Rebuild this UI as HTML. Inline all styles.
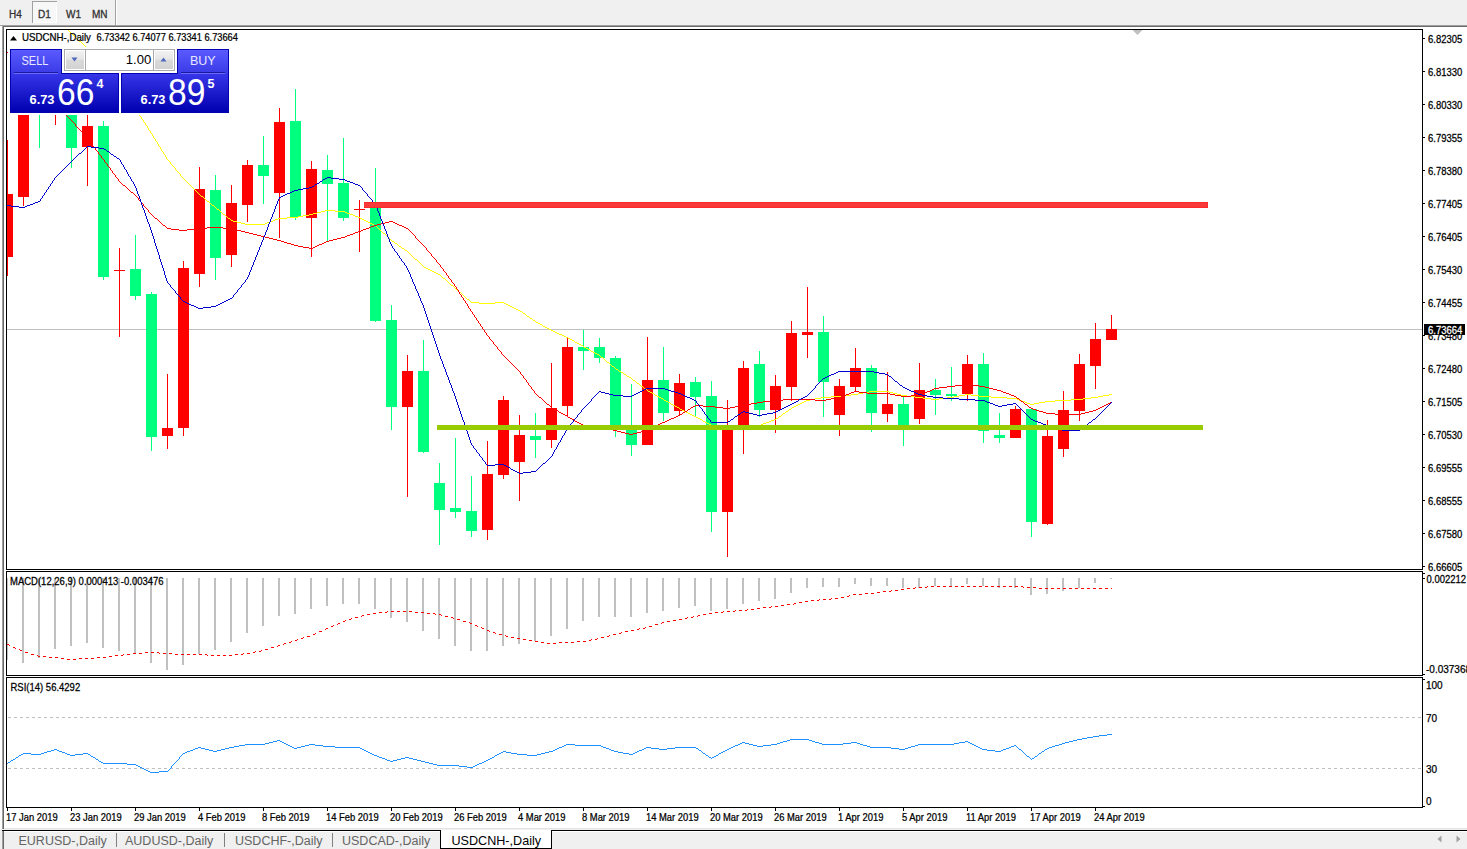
<!DOCTYPE html>
<html><head><meta charset="utf-8"><title>MT4 USDCNH Daily</title><style>
html,body{margin:0;padding:0;width:1467px;height:849px;overflow:hidden;background:#f0f0f0}
svg{position:absolute;left:0;top:0}
text{font-family:"Liberation Sans",sans-serif;white-space:pre}
</style></head><body>
<svg width="1467" height="849" viewBox="0 0 1467 849" shape-rendering="crispEdges">
<rect x="0" y="0" width="1467" height="849" fill="#f0f0f0"/>
<rect x="32" y="1" width="25" height="22" fill="#f7f7f7"/>
<rect x="32" y="1" width="25" height="1" fill="#a0a0a0"/>
<rect x="32" y="1" width="1" height="22" fill="#a0a0a0"/>
<rect x="33" y="22" width="24" height="1" fill="#ffffff"/>
<rect x="56" y="2" width="1" height="21" fill="#ffffff"/>
<rect x="115" y="0" width="1" height="25" fill="#a0a0a0"/>
<rect x="116" y="0" width="1" height="25" fill="#ffffff"/>
<text x="9" y="17.5" font-size="10" fill="#333" stroke="#333" stroke-width="0.3">H4</text>
<text x="38" y="17.5" font-size="10" fill="#333" stroke="#333" stroke-width="0.3">D1</text>
<text x="66" y="17.5" font-size="10" fill="#333" stroke="#333" stroke-width="0.3">W1</text>
<text x="92" y="17.5" font-size="10" fill="#333" stroke="#333" stroke-width="0.3">MN</text>
<rect x="0" y="25" width="1467" height="1" fill="#a0a0a0"/>
<rect x="2" y="26" width="1465" height="1" fill="#696969"/>
<rect x="2" y="25" width="1" height="804" fill="#a0a0a0"/>
<rect x="3" y="26" width="1" height="803" fill="#696969"/>
<rect x="4" y="27" width="1463" height="801" fill="#ffffff"/>
<rect x="0" y="26" width="2" height="803" fill="#ffffff"/>
<rect x="4" y="828" width="1463" height="1" fill="#e3e3e3"/>
<rect x="2" y="830" width="1465" height="1" fill="#000000"/>
<rect x="2" y="831" width="1" height="18" fill="#a0a0a0"/>
<rect x="3" y="831" width="1" height="18" fill="#696969"/>
<rect x="4" y="831" width="1463" height="1" fill="#ffffff"/>
<rect x="6" y="29" width="1417" height="1" fill="#000"/>
<rect x="6" y="569" width="1417" height="1" fill="#000"/>
<rect x="6" y="29" width="1" height="541" fill="#000"/>
<rect x="1422" y="29" width="1" height="541" fill="#000"/>
<rect x="6" y="571" width="1417" height="1" fill="#000"/>
<rect x="6" y="675" width="1417" height="1" fill="#000"/>
<rect x="6" y="571" width="1" height="105" fill="#000"/>
<rect x="1422" y="571" width="1" height="105" fill="#000"/>
<rect x="6" y="677" width="1417" height="1" fill="#000"/>
<rect x="6" y="807" width="1417" height="1" fill="#000"/>
<rect x="6" y="677" width="1" height="131" fill="#000"/>
<rect x="1422" y="677" width="1" height="131" fill="#000"/>
<defs><clipPath id="cm"><rect x="7" y="30" width="1415" height="539"/></clipPath><clipPath id="cd"><rect x="7" y="572" width="1415" height="103"/></clipPath><clipPath id="cr"><rect x="7" y="678" width="1415" height="129"/></clipPath><linearGradient id="gtab" x1="0" y1="0" x2="0" y2="1"><stop offset="0" stop-color="#5a5aff"/><stop offset="1" stop-color="#3a3ae6"/></linearGradient><linearGradient id="gbody" x1="0" y1="0" x2="0" y2="1"><stop offset="0" stop-color="#3636e8"/><stop offset="1" stop-color="#0000b0"/></linearGradient><linearGradient id="gbtn" x1="0" y1="0" x2="0" y2="1"><stop offset="0" stop-color="#f2f2f2"/><stop offset="0.45" stop-color="#e6e6e6"/><stop offset="0.5" stop-color="#dadada"/><stop offset="1" stop-color="#d2d2d2"/></linearGradient></defs>
<g clip-path="url(#cm)">
<rect x="7" y="329" width="1415" height="1" fill="#c0c0c0"/>
<rect x="7" y="140" width="1" height="136" fill="#ff0000"/>
<rect x="2" y="194" width="11" height="63" fill="#ff0000"/>
<rect x="23" y="90" width="1" height="116" fill="#ff0000"/>
<rect x="18" y="100" width="11" height="97" fill="#ff0000"/>
<rect x="39" y="50" width="1" height="98" fill="#00ff7f"/>
<rect x="34" y="60" width="11" height="40" fill="#00ff7f"/>
<rect x="55" y="80" width="1" height="45" fill="#ff0000"/>
<rect x="50" y="90" width="11" height="20" fill="#ff0000"/>
<rect x="71" y="70" width="1" height="98" fill="#00ff7f"/>
<rect x="66" y="80" width="11" height="68" fill="#00ff7f"/>
<rect x="87" y="100" width="1" height="86" fill="#ff0000"/>
<rect x="82" y="126" width="11" height="21" fill="#ff0000"/>
<rect x="103" y="121" width="1" height="159" fill="#00ff7f"/>
<rect x="98" y="126" width="11" height="151" fill="#00ff7f"/>
<rect x="119" y="248" width="1" height="89" fill="#ff0000"/>
<rect x="114" y="270" width="11" height="1" fill="#ff0000"/>
<rect x="135" y="235" width="1" height="65" fill="#00ff7f"/>
<rect x="130" y="269" width="11" height="27" fill="#00ff7f"/>
<rect x="151" y="292" width="1" height="159" fill="#00ff7f"/>
<rect x="146" y="294" width="11" height="143" fill="#00ff7f"/>
<rect x="167" y="374" width="1" height="75" fill="#ff0000"/>
<rect x="162" y="428" width="11" height="8" fill="#ff0000"/>
<rect x="183" y="261" width="1" height="175" fill="#ff0000"/>
<rect x="178" y="268" width="11" height="160" fill="#ff0000"/>
<rect x="199" y="167" width="1" height="120" fill="#ff0000"/>
<rect x="194" y="189" width="11" height="85" fill="#ff0000"/>
<rect x="215" y="175" width="1" height="105" fill="#00ff7f"/>
<rect x="210" y="190" width="11" height="68" fill="#00ff7f"/>
<rect x="231" y="185" width="1" height="82" fill="#ff0000"/>
<rect x="226" y="203" width="11" height="52" fill="#ff0000"/>
<rect x="247" y="160" width="1" height="62" fill="#ff0000"/>
<rect x="242" y="165" width="11" height="40" fill="#ff0000"/>
<rect x="263" y="136" width="1" height="68" fill="#00ff7f"/>
<rect x="258" y="165" width="11" height="11" fill="#00ff7f"/>
<rect x="279" y="108" width="1" height="130" fill="#ff0000"/>
<rect x="274" y="122" width="11" height="71" fill="#ff0000"/>
<rect x="295" y="89" width="1" height="131" fill="#00ff7f"/>
<rect x="290" y="121" width="11" height="96" fill="#00ff7f"/>
<rect x="311" y="161" width="1" height="96" fill="#ff0000"/>
<rect x="306" y="169" width="11" height="49" fill="#ff0000"/>
<rect x="327" y="155" width="1" height="87" fill="#00ff7f"/>
<rect x="322" y="170" width="11" height="14" fill="#00ff7f"/>
<rect x="343" y="138" width="1" height="83" fill="#00ff7f"/>
<rect x="338" y="183" width="11" height="35" fill="#00ff7f"/>
<rect x="359" y="200" width="1" height="52" fill="#ff0000"/>
<rect x="354" y="209" width="11" height="1" fill="#ff0000"/>
<rect x="375" y="168" width="1" height="154" fill="#00ff7f"/>
<rect x="370" y="207" width="11" height="114" fill="#00ff7f"/>
<rect x="391" y="305" width="1" height="125" fill="#00ff7f"/>
<rect x="386" y="320" width="11" height="87" fill="#00ff7f"/>
<rect x="407" y="355" width="1" height="142" fill="#ff0000"/>
<rect x="402" y="371" width="11" height="36" fill="#ff0000"/>
<rect x="423" y="340" width="1" height="113" fill="#00ff7f"/>
<rect x="418" y="371" width="11" height="81" fill="#00ff7f"/>
<rect x="439" y="463" width="1" height="82" fill="#00ff7f"/>
<rect x="434" y="483" width="11" height="27" fill="#00ff7f"/>
<rect x="455" y="438" width="1" height="80" fill="#00ff7f"/>
<rect x="450" y="508" width="11" height="4" fill="#00ff7f"/>
<rect x="471" y="476" width="1" height="61" fill="#00ff7f"/>
<rect x="466" y="511" width="11" height="20" fill="#00ff7f"/>
<rect x="487" y="441" width="1" height="99" fill="#ff0000"/>
<rect x="482" y="474" width="11" height="56" fill="#ff0000"/>
<rect x="503" y="396" width="1" height="83" fill="#ff0000"/>
<rect x="498" y="400" width="11" height="75" fill="#ff0000"/>
<rect x="519" y="415" width="1" height="86" fill="#ff0000"/>
<rect x="514" y="435" width="11" height="27" fill="#ff0000"/>
<rect x="535" y="413" width="1" height="45" fill="#00ff7f"/>
<rect x="530" y="436" width="11" height="4" fill="#00ff7f"/>
<rect x="551" y="363" width="1" height="85" fill="#ff0000"/>
<rect x="546" y="408" width="11" height="32" fill="#ff0000"/>
<rect x="567" y="337" width="1" height="80" fill="#ff0000"/>
<rect x="562" y="347" width="11" height="59" fill="#ff0000"/>
<rect x="583" y="330" width="1" height="40" fill="#00ff7f"/>
<rect x="578" y="347" width="11" height="4" fill="#00ff7f"/>
<rect x="599" y="338" width="1" height="25" fill="#00ff7f"/>
<rect x="594" y="347" width="11" height="11" fill="#00ff7f"/>
<rect x="615" y="356" width="1" height="81" fill="#00ff7f"/>
<rect x="610" y="358" width="11" height="70" fill="#00ff7f"/>
<rect x="631" y="384" width="1" height="72" fill="#00ff7f"/>
<rect x="626" y="427" width="11" height="18" fill="#00ff7f"/>
<rect x="647" y="337" width="1" height="108" fill="#ff0000"/>
<rect x="642" y="380" width="11" height="65" fill="#ff0000"/>
<rect x="663" y="347" width="1" height="74" fill="#00ff7f"/>
<rect x="658" y="380" width="11" height="33" fill="#00ff7f"/>
<rect x="679" y="374" width="1" height="42" fill="#ff0000"/>
<rect x="674" y="383" width="11" height="28" fill="#ff0000"/>
<rect x="695" y="377" width="1" height="39" fill="#00ff7f"/>
<rect x="690" y="382" width="11" height="15" fill="#00ff7f"/>
<rect x="711" y="381" width="1" height="151" fill="#00ff7f"/>
<rect x="706" y="396" width="11" height="116" fill="#00ff7f"/>
<rect x="727" y="400" width="1" height="157" fill="#ff0000"/>
<rect x="722" y="429" width="11" height="83" fill="#ff0000"/>
<rect x="743" y="361" width="1" height="93" fill="#ff0000"/>
<rect x="738" y="368" width="11" height="58" fill="#ff0000"/>
<rect x="759" y="351" width="1" height="66" fill="#00ff7f"/>
<rect x="754" y="364" width="11" height="46" fill="#00ff7f"/>
<rect x="775" y="375" width="1" height="58" fill="#ff0000"/>
<rect x="770" y="386" width="11" height="24" fill="#ff0000"/>
<rect x="791" y="321" width="1" height="80" fill="#ff0000"/>
<rect x="786" y="333" width="11" height="54" fill="#ff0000"/>
<rect x="807" y="287" width="1" height="71" fill="#ff0000"/>
<rect x="802" y="332" width="11" height="3" fill="#ff0000"/>
<rect x="823" y="316" width="1" height="101" fill="#00ff7f"/>
<rect x="818" y="332" width="11" height="50" fill="#00ff7f"/>
<rect x="839" y="379" width="1" height="57" fill="#ff0000"/>
<rect x="834" y="386" width="11" height="29" fill="#ff0000"/>
<rect x="855" y="348" width="1" height="43" fill="#ff0000"/>
<rect x="850" y="368" width="11" height="19" fill="#ff0000"/>
<rect x="871" y="365" width="1" height="67" fill="#00ff7f"/>
<rect x="866" y="368" width="11" height="45" fill="#00ff7f"/>
<rect x="887" y="372" width="1" height="50" fill="#ff0000"/>
<rect x="882" y="404" width="11" height="10" fill="#ff0000"/>
<rect x="903" y="397" width="1" height="49" fill="#00ff7f"/>
<rect x="898" y="404" width="11" height="23" fill="#00ff7f"/>
<rect x="919" y="363" width="1" height="61" fill="#ff0000"/>
<rect x="914" y="390" width="11" height="29" fill="#ff0000"/>
<rect x="935" y="379" width="1" height="36" fill="#00ff7f"/>
<rect x="930" y="390" width="11" height="5" fill="#00ff7f"/>
<rect x="951" y="367" width="1" height="34" fill="#00ff7f"/>
<rect x="946" y="394" width="11" height="2" fill="#00ff7f"/>
<rect x="967" y="355" width="1" height="46" fill="#ff0000"/>
<rect x="962" y="364" width="11" height="30" fill="#ff0000"/>
<rect x="983" y="353" width="1" height="90" fill="#00ff7f"/>
<rect x="978" y="364" width="11" height="67" fill="#00ff7f"/>
<rect x="999" y="413" width="1" height="30" fill="#00ff7f"/>
<rect x="994" y="435" width="11" height="3" fill="#00ff7f"/>
<rect x="1015" y="406" width="1" height="32" fill="#ff0000"/>
<rect x="1010" y="409" width="11" height="29" fill="#ff0000"/>
<rect x="1031" y="408" width="1" height="129" fill="#00ff7f"/>
<rect x="1026" y="409" width="11" height="113" fill="#00ff7f"/>
<rect x="1047" y="420" width="1" height="105" fill="#ff0000"/>
<rect x="1042" y="436" width="11" height="88" fill="#ff0000"/>
<rect x="1063" y="391" width="1" height="66" fill="#ff0000"/>
<rect x="1058" y="410" width="11" height="39" fill="#ff0000"/>
<rect x="1079" y="354" width="1" height="67" fill="#ff0000"/>
<rect x="1074" y="364" width="11" height="47" fill="#ff0000"/>
<rect x="1095" y="323" width="1" height="66" fill="#ff0000"/>
<rect x="1090" y="339" width="11" height="27" fill="#ff0000"/>
<rect x="1111" y="315" width="1" height="25" fill="#ff0000"/>
<rect x="1106" y="329" width="11" height="11" fill="#ff0000"/>
<g shape-rendering="crispEdges">
<path d="M55 18h1v1h-1zM56 19h1v1h-1zM57 20h1v1h-1zM58 21h1v1h-1zM59 22h1v1h-1zM60 23h1v1h-1zM61 24h1v1h-1zM62 25h1v1h-1zM63 26h2v1h-2zM65 27h1v1h-1zM66 28h1v1h-1zM67 29h1v1h-1zM68 30h1v1h-1zM69 31h1v1h-1zM70 32h1v1h-1zM71 33h1v1h-1zM72 34h1v1h-1zM73 35h1v1h-1zM74 36h1v1h-1zM75 37h1v1h-1zM76 38h1v1h-1zM77 39h1v1h-1zM78 40h1v1h-1zM79 41h2v1h-2zM81 42h1v1h-1zM82 43h1v1h-1zM83 44h1v1h-1zM84 45h1v1h-1zM85 46h1v1h-1zM86 47h1v1h-1zM87 48h1v1h-1zM88 49h1v1h-1zM89 50h1v1h-1zM90 51h1v1h-1zM91 52h1v1h-1zM91 53h1v1h-1zM92 54h1v1h-1zM93 55h1v1h-1zM94 56h1v1h-1zM95 57h1v1h-1zM96 58h1v1h-1zM97 59h1v1h-1zM98 60h1v1h-1zM99 61h1v1h-1zM99 62h1v1h-1zM100 63h1v1h-1zM101 64h1v1h-1zM102 65h1v1h-1zM103 66h1v1h-1zM104 67h1v1h-1zM105 68h1v1h-1zM105 69h1v1h-1zM106 70h1v1h-1zM107 71h1v1h-1zM108 72h1v1h-1zM109 73h1v1h-1zM109 74h1v1h-1zM110 75h1v1h-1zM111 76h1v1h-1zM112 77h1v1h-1zM113 78h1v1h-1zM113 79h1v1h-1zM114 80h1v1h-1zM115 81h1v1h-1zM116 82h1v1h-1zM117 83h1v1h-1zM117 84h1v1h-1zM118 85h1v1h-1zM119 86h1v1h-1zM120 87h1v1h-1zM120 88h1v1h-1zM121 89h1v1h-1zM122 90h1v1h-1zM123 91h1v1h-1zM123 92h1v1h-1zM124 93h1v1h-1zM125 94h1v1h-1zM126 95h1v1h-1zM126 96h1v1h-1zM127 97h1v1h-1zM128 98h1v1h-1zM128 99h1v1h-1zM129 100h1v1h-1zM130 101h1v1h-1zM131 102h1v1h-1zM131 103h1v1h-1zM132 104h1v1h-1zM133 105h1v1h-1zM134 106h1v1h-1zM134 107h1v1h-1zM135 108h1v1h-1zM136 109h1v1h-1zM136 110h1v1h-1zM137 111h1v1h-1zM138 112h1v1h-1zM138 113h1v1h-1zM139 114h1v1h-1zM139 115h1v1h-1zM140 116h1v1h-1zM141 117h1v1h-1zM141 118h1v1h-1zM142 119h1v1h-1zM143 120h1v1h-1zM143 121h1v1h-1zM144 122h1v1h-1zM145 123h1v1h-1zM145 124h1v1h-1zM146 125h1v1h-1zM147 126h1v1h-1zM147 127h1v1h-1zM148 128h1v1h-1zM148 129h1v1h-1zM149 130h1v1h-1zM150 131h1v1h-1zM150 132h1v1h-1zM151 133h1v1h-1zM152 134h1v1h-1zM152 135h1v1h-1zM153 136h1v1h-1zM153 137h1v1h-1zM154 138h1v1h-1zM155 139h1v1h-1zM155 140h1v1h-1zM156 141h1v1h-1zM157 142h1v1h-1zM157 143h1v1h-1zM158 144h1v1h-1zM158 145h1v1h-1zM159 146h1v1h-1zM160 147h1v1h-1zM160 148h1v1h-1zM161 149h1v1h-1zM161 150h1v1h-1zM162 151h1v1h-1zM163 152h1v1h-1zM163 153h1v1h-1zM164 154h1v1h-1zM165 155h1v1h-1zM165 156h1v1h-1zM166 157h1v1h-1zM166 158h1v1h-1zM167 159h1v1h-1zM168 160h1v1h-1zM169 161h1v1h-1zM170 162h1v1h-1zM170 163h1v1h-1zM171 164h1v1h-1zM172 165h1v1h-1zM173 166h1v1h-1zM174 167h1v1h-1zM175 168h1v1h-1zM175 169h1v1h-1zM176 170h1v1h-1zM177 171h1v1h-1zM178 172h1v1h-1zM179 173h1v1h-1zM180 174h1v1h-1zM180 175h1v1h-1zM181 176h1v1h-1zM182 177h1v1h-1zM183 178h1v1h-1zM184 179h1v1h-1zM185 180h1v1h-1zM186 181h1v1h-1zM187 182h1v1h-1zM188 183h1v1h-1zM189 184h1v1h-1zM190 185h1v1h-1zM191 186h1v1h-1zM192 187h1v1h-1zM193 188h1v1h-1zM194 189h1v1h-1zM195 190h1v1h-1zM196 191h1v1h-1zM197 192h1v1h-1zM198 193h1v1h-1zM199 194h1v1h-1zM200 195h1v1h-1zM201 196h2v1h-2zM203 197h1v1h-1zM204 198h1v1h-1zM205 199h1v1h-1zM206 200h1v1h-1zM207 201h2v1h-2zM209 202h1v1h-1zM210 203h1v1h-1zM211 204h1v1h-1zM212 205h2v1h-2zM214 206h1v1h-1zM215 207h1v1h-1zM216 208h1v1h-1zM217 209h2v1h-2zM219 210h1v1h-1zM325 210h10v1h-10zM220 211h1v1h-1zM321 211h4v1h-4zM335 211h10v1h-10zM221 212h1v1h-1zM317 212h4v1h-4zM345 212h2v1h-2zM222 213h1v1h-1zM313 213h4v1h-4zM347 213h3v1h-3zM223 214h2v1h-2zM309 214h4v1h-4zM350 214h3v1h-3zM225 215h1v1h-1zM303 215h6v1h-6zM353 215h2v1h-2zM226 216h1v1h-1zM298 216h5v1h-5zM355 216h3v1h-3zM227 217h1v1h-1zM287 217h11v1h-11zM358 217h2v1h-2zM228 218h2v1h-2zM278 218h9v1h-9zM360 218h2v1h-2zM230 219h1v1h-1zM275 219h3v1h-3zM362 219h2v1h-2zM231 220h2v1h-2zM273 220h2v1h-2zM364 220h2v1h-2zM233 221h4v1h-4zM270 221h3v1h-3zM366 221h2v1h-2zM237 222h4v1h-4zM267 222h3v1h-3zM368 222h2v1h-2zM241 223h4v1h-4zM265 223h2v1h-2zM370 223h2v1h-2zM245 224h20v1h-20zM372 224h2v1h-2zM374 225h2v1h-2zM376 226h1v1h-1zM377 227h1v1h-1zM378 228h1v1h-1zM379 229h1v1h-1zM380 230h1v1h-1zM381 231h1v1h-1zM382 232h1v1h-1zM383 233h2v1h-2zM385 234h1v1h-1zM386 235h1v1h-1zM387 236h1v1h-1zM388 237h1v1h-1zM389 238h1v1h-1zM390 239h1v1h-1zM391 240h1v1h-1zM392 241h2v1h-2zM394 242h1v1h-1zM395 243h2v1h-2zM397 244h1v1h-1zM398 245h1v1h-1zM399 246h2v1h-2zM401 247h1v1h-1zM402 248h2v1h-2zM404 249h1v1h-1zM405 250h2v1h-2zM407 251h1v1h-1zM408 252h1v1h-1zM409 253h1v1h-1zM410 254h1v1h-1zM411 255h1v1h-1zM412 256h1v1h-1zM413 257h1v1h-1zM414 258h1v1h-1zM415 259h2v1h-2zM417 260h1v1h-1zM418 261h1v1h-1zM419 262h1v1h-1zM420 263h1v1h-1zM421 264h1v1h-1zM422 265h1v1h-1zM423 266h1v1h-1zM424 267h2v1h-2zM426 268h2v1h-2zM428 269h2v1h-2zM430 270h2v1h-2zM432 271h2v1h-2zM434 272h2v1h-2zM436 273h2v1h-2zM438 274h2v1h-2zM440 275h1v1h-1zM441 276h1v1h-1zM442 277h1v1h-1zM443 278h2v1h-2zM445 279h1v1h-1zM446 280h1v1h-1zM447 281h1v1h-1zM448 282h1v1h-1zM449 283h1v1h-1zM450 284h1v1h-1zM451 285h2v1h-2zM453 286h1v1h-1zM454 287h1v1h-1zM455 288h1v1h-1zM456 289h1v1h-1zM457 290h1v1h-1zM458 291h1v1h-1zM459 292h2v1h-2zM461 293h1v1h-1zM462 294h1v1h-1zM463 295h1v1h-1zM464 296h1v1h-1zM465 297h1v1h-1zM466 298h1v1h-1zM467 299h2v1h-2zM469 300h1v1h-1zM470 301h1v1h-1zM471 302h8v1h-8zM495 302h9v1h-9zM479 303h16v1h-16zM504 303h2v1h-2zM506 304h2v1h-2zM508 305h2v1h-2zM510 306h2v1h-2zM512 307h2v1h-2zM514 308h2v1h-2zM516 309h2v1h-2zM518 310h2v1h-2zM520 311h2v1h-2zM522 312h1v1h-1zM523 313h2v1h-2zM525 314h1v1h-1zM526 315h1v1h-1zM527 316h2v1h-2zM529 317h1v1h-1zM530 318h2v1h-2zM532 319h1v1h-1zM533 320h2v1h-2zM535 321h1v1h-1zM536 322h2v1h-2zM538 323h2v1h-2zM540 324h2v1h-2zM542 325h1v1h-1zM543 326h2v1h-2zM545 327h2v1h-2zM547 328h2v1h-2zM549 329h2v1h-2zM551 330h2v1h-2zM553 331h2v1h-2zM555 332h2v1h-2zM557 333h2v1h-2zM559 334h3v1h-3zM562 335h2v1h-2zM564 336h2v1h-2zM566 337h2v1h-2zM568 338h2v1h-2zM570 339h2v1h-2zM572 340h2v1h-2zM574 341h1v1h-1zM575 342h2v1h-2zM577 343h2v1h-2zM579 344h2v1h-2zM581 345h2v1h-2zM583 346h1v1h-1zM584 347h2v1h-2zM586 348h2v1h-2zM588 349h2v1h-2zM590 350h1v1h-1zM591 351h2v1h-2zM593 352h2v1h-2zM595 353h2v1h-2zM597 354h2v1h-2zM599 355h1v1h-1zM600 356h1v1h-1zM601 357h2v1h-2zM603 358h1v1h-1zM604 359h1v1h-1zM605 360h1v1h-1zM606 361h1v1h-1zM607 362h2v1h-2zM609 363h1v1h-1zM610 364h1v1h-1zM611 365h1v1h-1zM612 366h2v1h-2zM614 367h1v1h-1zM615 368h1v1h-1zM616 369h2v1h-2zM618 370h1v1h-1zM619 371h2v1h-2zM621 372h2v1h-2zM623 373h1v1h-1zM624 374h2v1h-2zM626 375h1v1h-1zM627 376h2v1h-2zM629 377h2v1h-2zM631 378h1v1h-1zM632 379h1v1h-1zM633 380h2v1h-2zM635 381h1v1h-1zM636 382h1v1h-1zM637 383h2v1h-2zM639 384h1v1h-1zM640 385h1v1h-1zM641 386h2v1h-2zM643 387h1v1h-1zM644 388h1v1h-1zM645 389h2v1h-2zM647 390h1v1h-1zM648 391h2v1h-2zM869 391h20v1h-20zM650 392h2v1h-2zM863 392h6v1h-6zM889 392h4v1h-4zM652 393h2v1h-2zM858 393h5v1h-5zM893 393h4v1h-4zM654 394h1v1h-1zM851 394h7v1h-7zM897 394h4v1h-4zM965 394h6v1h-6zM1109 394h3v1h-3zM655 395h2v1h-2zM843 395h8v1h-8zM901 395h6v1h-6zM959 395h6v1h-6zM971 395h8v1h-8zM1103 395h6v1h-6zM657 396h2v1h-2zM831 396h12v1h-12zM907 396h8v1h-8zM954 396h5v1h-5zM979 396h12v1h-12zM1098 396h5v1h-5zM659 397h2v1h-2zM821 397h10v1h-10zM915 397h8v1h-8zM947 397h7v1h-7zM991 397h16v1h-16zM1091 397h7v1h-7zM661 398h2v1h-2zM815 398h6v1h-6zM923 398h8v1h-8zM939 398h8v1h-8zM1007 398h10v1h-10zM1083 398h8v1h-8zM663 399h1v1h-1zM810 399h5v1h-5zM931 399h8v1h-8zM1017 399h2v1h-2zM1071 399h12v1h-12zM664 400h2v1h-2zM806 400h4v1h-4zM1019 400h3v1h-3zM1055 400h16v1h-16zM666 401h2v1h-2zM804 401h2v1h-2zM1022 401h3v1h-3zM1045 401h10v1h-10zM668 402h2v1h-2zM802 402h2v1h-2zM1025 402h2v1h-2zM1039 402h6v1h-6zM670 403h1v1h-1zM800 403h2v1h-2zM1027 403h3v1h-3zM1034 403h5v1h-5zM671 404h2v1h-2zM798 404h2v1h-2zM1030 404h4v1h-4zM673 405h2v1h-2zM796 405h2v1h-2zM675 406h2v1h-2zM794 406h2v1h-2zM677 407h2v1h-2zM792 407h2v1h-2zM679 408h1v1h-1zM791 408h1v1h-1zM680 409h2v1h-2zM789 409h2v1h-2zM682 410h2v1h-2zM788 410h1v1h-1zM684 411h2v1h-2zM786 411h2v1h-2zM686 412h2v1h-2zM785 412h1v1h-1zM688 413h2v1h-2zM783 413h2v1h-2zM690 414h2v1h-2zM782 414h1v1h-1zM692 415h2v1h-2zM781 415h1v1h-1zM694 416h2v1h-2zM779 416h2v1h-2zM696 417h2v1h-2zM778 417h1v1h-1zM698 418h2v1h-2zM776 418h2v1h-2zM700 419h2v1h-2zM774 419h2v1h-2zM702 420h1v1h-1zM771 420h3v1h-3zM703 421h2v1h-2zM769 421h2v1h-2zM705 422h2v1h-2zM766 422h3v1h-3zM707 423h2v1h-2zM763 423h3v1h-3zM709 424h2v1h-2zM761 424h2v1h-2zM711 425h3v1h-3zM757 425h4v1h-4zM714 426h5v1h-5zM751 426h6v1h-6zM719 427h6v1h-6zM746 427h5v1h-5zM725 428h21v1h-21z" fill="#ffff00"/>
<path d="M7 52h1v1h-1zM8 53h1v1h-1zM9 54h1v1h-1zM10 55h1v1h-1zM11 56h1v1h-1zM12 57h1v1h-1zM13 58h1v1h-1zM14 59h1v1h-1zM15 60h1v1h-1zM15 61h1v1h-1zM16 62h1v1h-1zM17 63h1v1h-1zM18 64h1v1h-1zM19 65h1v1h-1zM20 66h1v1h-1zM21 67h1v1h-1zM22 68h1v1h-1zM23 69h1v1h-1zM24 70h1v1h-1zM25 71h1v1h-1zM26 72h1v1h-1zM27 73h1v1h-1zM28 74h1v1h-1zM29 75h1v1h-1zM30 76h1v1h-1zM31 77h1v1h-1zM31 78h1v1h-1zM32 79h1v1h-1zM33 80h1v1h-1zM34 81h1v1h-1zM35 82h1v1h-1zM36 83h1v1h-1zM37 84h1v1h-1zM38 85h1v1h-1zM39 86h1v1h-1zM40 87h1v1h-1zM41 88h1v1h-1zM42 89h1v1h-1zM43 90h1v1h-1zM44 91h1v1h-1zM45 92h1v1h-1zM46 93h1v1h-1zM47 94h1v1h-1zM47 95h1v1h-1zM48 96h1v1h-1zM49 97h1v1h-1zM50 98h1v1h-1zM51 99h1v1h-1zM52 100h1v1h-1zM53 101h1v1h-1zM54 102h1v1h-1zM55 103h1v1h-1zM56 104h1v1h-1zM57 105h1v1h-1zM58 106h1v1h-1zM59 107h1v1h-1zM60 108h1v1h-1zM61 109h1v1h-1zM62 110h1v1h-1zM63 111h1v1h-1zM63 112h1v1h-1zM64 113h1v1h-1zM65 114h1v1h-1zM66 115h1v1h-1zM67 116h1v1h-1zM68 117h1v1h-1zM69 118h1v1h-1zM70 119h1v1h-1zM71 120h1v1h-1zM72 121h1v1h-1zM73 122h1v1h-1zM74 123h1v1h-1zM75 124h1v1h-1zM75 125h1v1h-1zM76 126h1v1h-1zM77 127h1v1h-1zM78 128h1v1h-1zM79 129h1v1h-1zM80 130h1v1h-1zM81 131h1v1h-1zM82 132h1v1h-1zM83 133h1v1h-1zM83 134h1v1h-1zM84 135h1v1h-1zM85 136h1v1h-1zM86 137h1v1h-1zM87 138h1v1h-1zM88 139h1v1h-1zM89 140h1v1h-1zM89 141h1v1h-1zM90 142h1v1h-1zM91 143h1v1h-1zM92 144h1v1h-1zM92 145h1v1h-1zM93 146h1v1h-1zM94 147h1v1h-1zM95 148h1v1h-1zM95 149h1v1h-1zM96 150h1v1h-1zM97 151h1v1h-1zM98 152h1v1h-1zM98 153h1v1h-1zM99 154h1v1h-1zM100 155h1v1h-1zM101 156h1v1h-1zM101 157h1v1h-1zM102 158h1v1h-1zM103 159h1v1h-1zM104 160h1v1h-1zM104 161h1v1h-1zM105 162h1v1h-1zM106 163h1v1h-1zM107 164h1v1h-1zM107 165h1v1h-1zM108 166h1v1h-1zM109 167h1v1h-1zM110 168h1v1h-1zM110 169h1v1h-1zM111 170h1v1h-1zM112 171h1v1h-1zM112 172h1v1h-1zM113 173h1v1h-1zM114 174h1v1h-1zM115 175h1v1h-1zM115 176h1v1h-1zM116 177h1v1h-1zM117 178h1v1h-1zM118 179h1v1h-1zM118 180h1v1h-1zM119 181h1v1h-1zM120 182h1v1h-1zM121 183h1v1h-1zM122 184h1v1h-1zM123 185h2v1h-2zM125 186h1v1h-1zM126 187h1v1h-1zM127 188h1v1h-1zM128 189h1v1h-1zM129 190h1v1h-1zM130 191h1v1h-1zM131 192h2v1h-2zM133 193h1v1h-1zM134 194h1v1h-1zM135 195h1v1h-1zM136 196h1v1h-1zM137 197h1v1h-1zM138 198h1v1h-1zM138 199h1v1h-1zM139 200h1v1h-1zM140 201h1v1h-1zM141 202h1v1h-1zM142 203h1v1h-1zM143 204h1v1h-1zM143 205h1v1h-1zM144 206h1v1h-1zM145 207h1v1h-1zM146 208h1v1h-1zM147 209h1v1h-1zM148 210h1v1h-1zM148 211h1v1h-1zM149 212h1v1h-1zM150 213h1v1h-1zM151 214h1v1h-1zM152 215h1v1h-1zM153 216h1v1h-1zM154 217h1v1h-1zM155 218h2v1h-2zM157 219h1v1h-1zM158 220h1v1h-1zM159 221h1v1h-1zM389 221h4v1h-4zM160 222h1v1h-1zM385 222h4v1h-4zM393 222h2v1h-2zM161 223h1v1h-1zM381 223h4v1h-4zM395 223h2v1h-2zM162 224h1v1h-1zM377 224h4v1h-4zM397 224h2v1h-2zM163 225h2v1h-2zM374 225h3v1h-3zM399 225h3v1h-3zM165 226h1v1h-1zM371 226h3v1h-3zM402 226h2v1h-2zM166 227h1v1h-1zM207 227h16v1h-16zM369 227h2v1h-2zM404 227h2v1h-2zM167 228h4v1h-4zM195 228h12v1h-12zM223 228h10v1h-10zM366 228h3v1h-3zM406 228h2v1h-2zM171 229h8v1h-8zM187 229h8v1h-8zM233 229h4v1h-4zM363 229h3v1h-3zM408 229h1v1h-1zM179 230h8v1h-8zM237 230h4v1h-4zM361 230h2v1h-2zM409 230h1v1h-1zM241 231h4v1h-4zM358 231h3v1h-3zM410 231h1v1h-1zM245 232h4v1h-4zM355 232h3v1h-3zM411 232h1v1h-1zM249 233h4v1h-4zM353 233h2v1h-2zM412 233h1v1h-1zM253 234h4v1h-4zM350 234h3v1h-3zM413 234h1v1h-1zM257 235h4v1h-4zM347 235h3v1h-3zM414 235h1v1h-1zM261 236h4v1h-4zM345 236h2v1h-2zM415 236h1v1h-1zM265 237h4v1h-4zM341 237h4v1h-4zM415 237h1v1h-1zM269 238h4v1h-4zM337 238h4v1h-4zM416 238h1v1h-1zM273 239h4v1h-4zM333 239h4v1h-4zM417 239h1v1h-1zM277 240h4v1h-4zM329 240h4v1h-4zM418 240h1v1h-1zM281 241h3v1h-3zM326 241h3v1h-3zM419 241h1v1h-1zM284 242h3v1h-3zM324 242h2v1h-2zM420 242h1v1h-1zM287 243h4v1h-4zM322 243h2v1h-2zM421 243h1v1h-1zM291 244h3v1h-3zM319 244h3v1h-3zM422 244h1v1h-1zM294 245h4v1h-4zM317 245h2v1h-2zM423 245h1v1h-1zM298 246h5v1h-5zM315 246h2v1h-2zM424 246h1v1h-1zM303 247h6v1h-6zM313 247h2v1h-2zM425 247h1v1h-1zM309 248h4v1h-4zM426 248h1v1h-1zM426 249h1v1h-1zM427 250h1v1h-1zM428 251h1v1h-1zM429 252h1v1h-1zM430 253h1v1h-1zM431 254h1v1h-1zM431 255h1v1h-1zM432 256h1v1h-1zM433 257h1v1h-1zM434 258h1v1h-1zM435 259h1v1h-1zM436 260h1v1h-1zM436 261h1v1h-1zM437 262h1v1h-1zM438 263h1v1h-1zM439 264h1v1h-1zM440 265h1v1h-1zM440 266h1v1h-1zM441 267h1v1h-1zM442 268h1v1h-1zM443 269h1v1h-1zM443 270h1v1h-1zM444 271h1v1h-1zM445 272h1v1h-1zM446 273h1v1h-1zM446 274h1v1h-1zM447 275h1v1h-1zM448 276h1v1h-1zM448 277h1v1h-1zM449 278h1v1h-1zM450 279h1v1h-1zM451 280h1v1h-1zM451 281h1v1h-1zM452 282h1v1h-1zM453 283h1v1h-1zM454 284h1v1h-1zM454 285h1v1h-1zM455 286h1v1h-1zM456 287h1v1h-1zM456 288h1v1h-1zM457 289h1v1h-1zM458 290h1v1h-1zM458 291h1v1h-1zM459 292h1v1h-1zM459 293h1v1h-1zM460 294h1v1h-1zM461 295h1v1h-1zM461 296h1v1h-1zM462 297h1v1h-1zM463 298h1v1h-1zM463 299h1v1h-1zM464 300h1v1h-1zM465 301h1v1h-1zM465 302h1v1h-1zM466 303h1v1h-1zM467 304h1v1h-1zM467 305h1v1h-1zM468 306h1v1h-1zM468 307h1v1h-1zM469 308h1v1h-1zM470 309h1v1h-1zM470 310h1v1h-1zM471 311h1v1h-1zM472 312h1v1h-1zM472 313h1v1h-1zM473 314h1v1h-1zM474 315h1v1h-1zM474 316h1v1h-1zM475 317h1v1h-1zM476 318h1v1h-1zM476 319h1v1h-1zM477 320h1v1h-1zM478 321h1v1h-1zM478 322h1v1h-1zM479 323h1v1h-1zM480 324h1v1h-1zM480 325h1v1h-1zM481 326h1v1h-1zM482 327h1v1h-1zM482 328h1v1h-1zM483 329h1v1h-1zM484 330h1v1h-1zM484 331h1v1h-1zM485 332h1v1h-1zM486 333h1v1h-1zM486 334h1v1h-1zM487 335h1v1h-1zM488 336h1v1h-1zM489 337h1v1h-1zM489 338h1v1h-1zM490 339h1v1h-1zM491 340h1v1h-1zM492 341h1v1h-1zM493 342h1v1h-1zM493 343h1v1h-1zM494 344h1v1h-1zM495 345h1v1h-1zM496 346h1v1h-1zM497 347h1v1h-1zM497 348h1v1h-1zM498 349h1v1h-1zM499 350h1v1h-1zM500 351h1v1h-1zM501 352h1v1h-1zM501 353h1v1h-1zM502 354h1v1h-1zM503 355h1v1h-1zM504 356h1v1h-1zM505 357h1v1h-1zM506 358h1v1h-1zM507 359h1v1h-1zM508 360h1v1h-1zM509 361h1v1h-1zM510 362h1v1h-1zM511 363h1v1h-1zM512 364h1v1h-1zM513 365h1v1h-1zM514 366h1v1h-1zM515 367h1v1h-1zM516 368h1v1h-1zM517 369h1v1h-1zM518 370h1v1h-1zM519 371h1v1h-1zM520 372h1v1h-1zM520 373h1v1h-1zM521 374h1v1h-1zM522 375h1v1h-1zM523 376h1v1h-1zM523 377h1v1h-1zM524 378h1v1h-1zM525 379h1v1h-1zM526 380h1v1h-1zM526 381h1v1h-1zM527 382h1v1h-1zM528 383h1v1h-1zM528 384h1v1h-1zM963 384h8v1h-8zM529 385h1v1h-1zM955 385h8v1h-8zM971 385h8v1h-8zM530 386h1v1h-1zM947 386h8v1h-8zM979 386h6v1h-6zM531 387h1v1h-1zM939 387h8v1h-8zM985 387h4v1h-4zM531 388h1v1h-1zM934 388h5v1h-5zM989 388h4v1h-4zM532 389h1v1h-1zM932 389h2v1h-2zM993 389h4v1h-4zM533 390h1v1h-1zM930 390h2v1h-2zM997 390h4v1h-4zM534 391h1v1h-1zM854 391h5v1h-5zM927 391h3v1h-3zM1001 391h2v1h-2zM534 392h1v1h-1zM851 392h3v1h-3zM859 392h8v1h-8zM925 392h2v1h-2zM1003 392h3v1h-3zM535 393h1v1h-1zM849 393h2v1h-2zM867 393h23v1h-23zM923 393h2v1h-2zM1006 393h3v1h-3zM536 394h1v1h-1zM846 394h3v1h-3zM890 394h5v1h-5zM921 394h2v1h-2zM1009 394h2v1h-2zM537 395h1v1h-1zM843 395h3v1h-3zM895 395h6v1h-6zM911 395h10v1h-10zM1011 395h3v1h-3zM538 396h1v1h-1zM841 396h2v1h-2zM901 396h10v1h-10zM1014 396h2v1h-2zM539 397h2v1h-2zM837 397h4v1h-4zM1016 397h1v1h-1zM541 398h1v1h-1zM831 398h6v1h-6zM1017 398h2v1h-2zM542 399h1v1h-1zM783 399h32v1h-32zM826 399h5v1h-5zM1019 399h1v1h-1zM543 400h1v1h-1zM771 400h12v1h-12zM815 400h11v1h-11zM1020 400h1v1h-1zM544 401h1v1h-1zM763 401h8v1h-8zM1021 401h2v1h-2zM545 402h1v1h-1zM757 402h6v1h-6zM1023 402h1v1h-1zM1110 402h2v1h-2zM546 403h1v1h-1zM751 403h6v1h-6zM1024 403h1v1h-1zM1108 403h2v1h-2zM547 404h2v1h-2zM746 404h5v1h-5zM1025 404h2v1h-2zM1106 404h2v1h-2zM549 405h1v1h-1zM695 405h8v1h-8zM741 405h5v1h-5zM1027 405h1v1h-1zM1104 405h2v1h-2zM550 406h1v1h-1zM693 406h2v1h-2zM703 406h12v1h-12zM735 406h6v1h-6zM1028 406h1v1h-1zM1102 406h2v1h-2zM551 407h1v1h-1zM691 407h2v1h-2zM715 407h8v1h-8zM730 407h5v1h-5zM1029 407h2v1h-2zM1100 407h2v1h-2zM552 408h2v1h-2zM690 408h1v1h-1zM723 408h7v1h-7zM1031 408h2v1h-2zM1098 408h2v1h-2zM554 409h2v1h-2zM688 409h2v1h-2zM1033 409h3v1h-3zM1096 409h2v1h-2zM556 410h2v1h-2zM687 410h1v1h-1zM1036 410h3v1h-3zM1093 410h3v1h-3zM558 411h1v1h-1zM685 411h2v1h-2zM1039 411h4v1h-4zM1089 411h4v1h-4zM559 412h2v1h-2zM683 412h2v1h-2zM1043 412h3v1h-3zM1085 412h4v1h-4zM561 413h2v1h-2zM682 413h1v1h-1zM1046 413h9v1h-9zM1081 413h4v1h-4zM563 414h2v1h-2zM680 414h2v1h-2zM1055 414h26v1h-26zM565 415h2v1h-2zM678 415h2v1h-2zM567 416h1v1h-1zM676 416h2v1h-2zM568 417h2v1h-2zM674 417h2v1h-2zM570 418h2v1h-2zM671 418h3v1h-3zM572 419h2v1h-2zM669 419h2v1h-2zM574 420h1v1h-1zM667 420h2v1h-2zM575 421h2v1h-2zM665 421h2v1h-2zM577 422h2v1h-2zM662 422h3v1h-3zM579 423h2v1h-2zM660 423h2v1h-2zM581 424h2v1h-2zM658 424h2v1h-2zM583 425h4v1h-4zM656 425h2v1h-2zM587 426h8v1h-8zM654 426h2v1h-2zM595 427h7v1h-7zM652 427h2v1h-2zM602 428h5v1h-5zM650 428h2v1h-2zM607 429h6v1h-6zM648 429h2v1h-2zM613 430h4v1h-4zM645 430h3v1h-3zM617 431h4v1h-4zM641 431h4v1h-4zM621 432h4v1h-4zM637 432h4v1h-4zM625 433h4v1h-4zM633 433h4v1h-4zM629 434h4v1h-4z" fill="#ff0000"/>
<path d="M87 146h4v1h-4zM86 147h1v1h-1zM91 147h8v1h-8zM85 148h1v1h-1zM99 148h5v1h-5zM84 149h1v1h-1zM104 149h2v1h-2zM83 150h1v1h-1zM106 150h1v1h-1zM82 151h1v1h-1zM107 151h2v1h-2zM81 152h1v1h-1zM109 152h1v1h-1zM79 153h2v1h-2zM110 153h1v1h-1zM78 154h1v1h-1zM111 154h2v1h-2zM77 155h1v1h-1zM113 155h1v1h-1zM76 156h1v1h-1zM114 156h2v1h-2zM75 157h1v1h-1zM116 157h1v1h-1zM74 158h1v1h-1zM117 158h2v1h-2zM73 159h1v1h-1zM119 159h1v1h-1zM72 160h1v1h-1zM120 160h1v1h-1zM71 161h1v1h-1zM120 161h1v1h-1zM70 162h1v1h-1zM121 162h1v1h-1zM69 163h1v1h-1zM121 163h1v1h-1zM68 164h1v1h-1zM122 164h1v1h-1zM67 165h1v1h-1zM123 165h1v1h-1zM66 166h1v1h-1zM123 166h1v1h-1zM65 167h1v1h-1zM124 167h1v1h-1zM64 168h1v1h-1zM124 168h1v1h-1zM63 169h1v1h-1zM125 169h1v1h-1zM62 170h1v1h-1zM126 170h1v1h-1zM61 171h1v1h-1zM126 171h1v1h-1zM60 172h1v1h-1zM127 172h1v1h-1zM59 173h1v1h-1zM127 173h1v1h-1zM58 174h1v1h-1zM128 174h1v1h-1zM57 175h1v1h-1zM128 175h1v1h-1zM56 176h1v1h-1zM129 176h1v1h-1zM55 177h1v1h-1zM130 177h1v1h-1zM327 177h4v1h-4zM54 178h1v1h-1zM130 178h1v1h-1zM325 178h2v1h-2zM331 178h8v1h-8zM54 179h1v1h-1zM131 179h1v1h-1zM323 179h2v1h-2zM339 179h6v1h-6zM53 180h1v1h-1zM131 180h1v1h-1zM322 180h1v1h-1zM345 180h2v1h-2zM52 181h1v1h-1zM132 181h1v1h-1zM320 181h2v1h-2zM347 181h3v1h-3zM52 182h1v1h-1zM133 182h1v1h-1zM319 182h1v1h-1zM350 182h3v1h-3zM51 183h1v1h-1zM133 183h1v1h-1zM317 183h2v1h-2zM353 183h2v1h-2zM50 184h1v1h-1zM134 184h1v1h-1zM315 184h2v1h-2zM355 184h3v1h-3zM50 185h1v1h-1zM134 185h1v1h-1zM314 185h1v1h-1zM358 185h2v1h-2zM49 186h1v1h-1zM135 186h1v1h-1zM312 186h2v1h-2zM360 186h1v1h-1zM48 187h1v1h-1zM135 187h1v1h-1zM309 187h3v1h-3zM361 187h1v1h-1zM48 188h1v1h-1zM136 188h1v1h-1zM303 188h6v1h-6zM362 188h1v1h-1zM47 189h1v1h-1zM136 189h1v1h-1zM298 189h5v1h-5zM362 189h1v1h-1zM46 190h1v1h-1zM136 190h1v1h-1zM294 190h4v1h-4zM363 190h1v1h-1zM46 191h1v1h-1zM137 191h1v1h-1zM292 191h2v1h-2zM364 191h1v1h-1zM45 192h1v1h-1zM137 192h1v1h-1zM290 192h2v1h-2zM365 192h1v1h-1zM44 193h1v1h-1zM137 193h1v1h-1zM287 193h3v1h-3zM366 193h1v1h-1zM44 194h1v1h-1zM138 194h1v1h-1zM285 194h2v1h-2zM367 194h1v1h-1zM43 195h1v1h-1zM138 195h1v1h-1zM283 195h2v1h-2zM367 195h1v1h-1zM42 196h1v1h-1zM139 196h1v1h-1zM281 196h2v1h-2zM368 196h1v1h-1zM42 197h1v1h-1zM139 197h1v1h-1zM279 197h2v1h-2zM369 197h1v1h-1zM41 198h1v1h-1zM139 198h1v1h-1zM279 198h1v1h-1zM370 198h1v1h-1zM40 199h1v1h-1zM140 199h1v1h-1zM278 199h1v1h-1zM371 199h1v1h-1zM40 200h1v1h-1zM140 200h1v1h-1zM278 200h1v1h-1zM372 200h1v1h-1zM38 201h2v1h-2zM140 201h1v1h-1zM277 201h1v1h-1zM372 201h1v1h-1zM35 202h3v1h-3zM141 202h1v1h-1zM277 202h1v1h-1zM373 202h1v1h-1zM33 203h2v1h-2zM141 203h1v1h-1zM277 203h1v1h-1zM374 203h1v1h-1zM30 204h3v1h-3zM141 204h1v1h-1zM276 204h1v1h-1zM375 204h1v1h-1zM7 205h4v1h-4zM27 205h3v1h-3zM142 205h1v1h-1zM276 205h1v1h-1zM375 205h1v1h-1zM11 206h8v1h-8zM25 206h2v1h-2zM142 206h1v1h-1zM275 206h1v1h-1zM376 206h1v1h-1zM19 207h6v1h-6zM142 207h1v1h-1zM275 207h1v1h-1zM376 207h1v1h-1zM143 208h1v1h-1zM275 208h1v1h-1zM377 208h1v1h-1zM143 209h1v1h-1zM274 209h1v1h-1zM377 209h1v1h-1zM144 210h1v1h-1zM274 210h1v1h-1zM377 210h1v1h-1zM144 211h1v1h-1zM274 211h1v1h-1zM378 211h1v1h-1zM144 212h1v1h-1zM273 212h1v1h-1zM378 212h1v1h-1zM145 213h1v1h-1zM273 213h1v1h-1zM379 213h1v1h-1zM145 214h1v1h-1zM272 214h1v1h-1zM379 214h1v1h-1zM145 215h1v1h-1zM272 215h1v1h-1zM379 215h1v1h-1zM146 216h1v1h-1zM272 216h1v1h-1zM380 216h1v1h-1zM146 217h1v1h-1zM271 217h1v1h-1zM380 217h1v1h-1zM146 218h1v1h-1zM271 218h1v1h-1zM380 218h1v1h-1zM147 219h1v1h-1zM270 219h1v1h-1zM381 219h1v1h-1zM147 220h1v1h-1zM270 220h1v1h-1zM381 220h1v1h-1zM147 221h1v1h-1zM270 221h1v1h-1zM382 221h1v1h-1zM148 222h1v1h-1zM269 222h1v1h-1zM382 222h1v1h-1zM148 223h1v1h-1zM269 223h1v1h-1zM382 223h1v1h-1zM149 224h1v1h-1zM268 224h1v1h-1zM383 224h1v1h-1zM149 225h1v1h-1zM268 225h1v1h-1zM383 225h1v1h-1zM149 226h1v1h-1zM268 226h1v1h-1zM384 226h1v1h-1zM150 227h1v1h-1zM267 227h1v1h-1zM384 227h1v1h-1zM150 228h1v1h-1zM267 228h1v1h-1zM384 228h1v1h-1zM150 229h1v1h-1zM267 229h1v1h-1zM385 229h1v1h-1zM151 230h1v1h-1zM266 230h1v1h-1zM385 230h1v1h-1zM151 231h1v1h-1zM266 231h1v1h-1zM386 231h1v1h-1zM151 232h1v1h-1zM265 232h1v1h-1zM386 232h1v1h-1zM152 233h1v1h-1zM265 233h1v1h-1zM386 233h1v1h-1zM152 234h1v1h-1zM265 234h1v1h-1zM387 234h1v1h-1zM152 235h1v1h-1zM264 235h1v1h-1zM387 235h1v1h-1zM153 236h1v1h-1zM264 236h1v1h-1zM387 236h1v1h-1zM153 237h1v1h-1zM263 237h1v1h-1zM388 237h1v1h-1zM153 238h1v1h-1zM263 238h1v1h-1zM388 238h1v1h-1zM154 239h1v1h-1zM263 239h1v1h-1zM389 239h1v1h-1zM154 240h1v1h-1zM262 240h1v1h-1zM389 240h1v1h-1zM154 241h1v1h-1zM262 241h1v1h-1zM389 241h1v1h-1zM154 242h1v1h-1zM261 242h1v1h-1zM390 242h1v1h-1zM155 243h1v1h-1zM261 243h1v1h-1zM390 243h1v1h-1zM155 244h1v1h-1zM261 244h1v1h-1zM391 244h1v1h-1zM155 245h1v1h-1zM260 245h1v1h-1zM391 245h1v1h-1zM156 246h1v1h-1zM260 246h1v1h-1zM392 246h1v1h-1zM156 247h1v1h-1zM259 247h1v1h-1zM392 247h1v1h-1zM156 248h1v1h-1zM259 248h1v1h-1zM393 248h1v1h-1zM157 249h1v1h-1zM259 249h1v1h-1zM394 249h1v1h-1zM157 250h1v1h-1zM258 250h1v1h-1zM394 250h1v1h-1zM157 251h1v1h-1zM258 251h1v1h-1zM395 251h1v1h-1zM158 252h1v1h-1zM257 252h1v1h-1zM396 252h1v1h-1zM158 253h1v1h-1zM257 253h1v1h-1zM397 253h1v1h-1zM158 254h1v1h-1zM257 254h1v1h-1zM397 254h1v1h-1zM159 255h1v1h-1zM256 255h1v1h-1zM398 255h1v1h-1zM159 256h1v1h-1zM256 256h1v1h-1zM399 256h1v1h-1zM159 257h1v1h-1zM255 257h1v1h-1zM399 257h1v1h-1zM159 258h1v1h-1zM255 258h1v1h-1zM400 258h1v1h-1zM160 259h1v1h-1zM255 259h1v1h-1zM401 259h1v1h-1zM160 260h1v1h-1zM254 260h1v1h-1zM401 260h1v1h-1zM160 261h1v1h-1zM254 261h1v1h-1zM402 261h1v1h-1zM161 262h1v1h-1zM253 262h1v1h-1zM403 262h1v1h-1zM161 263h1v1h-1zM253 263h1v1h-1zM404 263h1v1h-1zM161 264h1v1h-1zM253 264h1v1h-1zM404 264h1v1h-1zM162 265h1v1h-1zM252 265h1v1h-1zM405 265h1v1h-1zM162 266h1v1h-1zM252 266h1v1h-1zM406 266h1v1h-1zM162 267h1v1h-1zM251 267h1v1h-1zM406 267h1v1h-1zM163 268h1v1h-1zM251 268h1v1h-1zM407 268h1v1h-1zM163 269h1v1h-1zM251 269h1v1h-1zM407 269h1v1h-1zM163 270h1v1h-1zM250 270h1v1h-1zM408 270h1v1h-1zM164 271h1v1h-1zM250 271h1v1h-1zM408 271h1v1h-1zM164 272h1v1h-1zM249 272h1v1h-1zM409 272h1v1h-1zM164 273h1v1h-1zM249 273h1v1h-1zM409 273h1v1h-1zM164 274h1v1h-1zM249 274h1v1h-1zM410 274h1v1h-1zM165 275h1v1h-1zM248 275h1v1h-1zM410 275h1v1h-1zM165 276h1v1h-1zM248 276h1v1h-1zM410 276h1v1h-1zM165 277h1v1h-1zM247 277h1v1h-1zM411 277h1v1h-1zM166 278h1v1h-1zM247 278h1v1h-1zM411 278h1v1h-1zM166 279h1v1h-1zM246 279h1v1h-1zM412 279h1v1h-1zM166 280h1v1h-1zM245 280h1v1h-1zM412 280h1v1h-1zM167 281h1v1h-1zM245 281h1v1h-1zM412 281h1v1h-1zM167 282h1v1h-1zM244 282h1v1h-1zM413 282h1v1h-1zM168 283h1v1h-1zM243 283h1v1h-1zM413 283h1v1h-1zM169 284h1v1h-1zM242 284h1v1h-1zM414 284h1v1h-1zM170 285h1v1h-1zM241 285h1v1h-1zM414 285h1v1h-1zM170 286h1v1h-1zM241 286h1v1h-1zM415 286h1v1h-1zM171 287h1v1h-1zM240 287h1v1h-1zM415 287h1v1h-1zM172 288h1v1h-1zM239 288h1v1h-1zM415 288h1v1h-1zM173 289h1v1h-1zM238 289h1v1h-1zM416 289h1v1h-1zM174 290h1v1h-1zM237 290h1v1h-1zM416 290h1v1h-1zM175 291h1v1h-1zM237 291h1v1h-1zM417 291h1v1h-1zM175 292h1v1h-1zM236 292h1v1h-1zM417 292h1v1h-1zM176 293h1v1h-1zM235 293h1v1h-1zM418 293h1v1h-1zM177 294h1v1h-1zM234 294h1v1h-1zM418 294h1v1h-1zM178 295h1v1h-1zM233 295h1v1h-1zM418 295h1v1h-1zM179 296h1v1h-1zM233 296h1v1h-1zM419 296h1v1h-1zM180 297h1v1h-1zM232 297h1v1h-1zM419 297h1v1h-1zM180 298h1v1h-1zM230 298h2v1h-2zM420 298h1v1h-1zM181 299h1v1h-1zM228 299h2v1h-2zM420 299h1v1h-1zM182 300h1v1h-1zM226 300h2v1h-2zM420 300h1v1h-1zM183 301h2v1h-2zM224 301h2v1h-2zM421 301h1v1h-1zM185 302h2v1h-2zM222 302h2v1h-2zM421 302h1v1h-1zM187 303h2v1h-2zM220 303h2v1h-2zM422 303h1v1h-1zM189 304h2v1h-2zM218 304h2v1h-2zM422 304h1v1h-1zM191 305h3v1h-3zM216 305h2v1h-2zM423 305h1v1h-1zM194 306h2v1h-2zM211 306h5v1h-5zM423 306h1v1h-1zM196 307h2v1h-2zM203 307h8v1h-8zM423 307h1v1h-1zM198 308h5v1h-5zM424 308h1v1h-1zM424 309h1v1h-1zM424 310h1v1h-1zM425 311h1v1h-1zM425 312h1v1h-1zM425 313h1v1h-1zM426 314h1v1h-1zM426 315h1v1h-1zM426 316h1v1h-1zM427 317h1v1h-1zM427 318h1v1h-1zM427 319h1v1h-1zM428 320h1v1h-1zM428 321h1v1h-1zM428 322h1v1h-1zM429 323h1v1h-1zM429 324h1v1h-1zM429 325h1v1h-1zM430 326h1v1h-1zM430 327h1v1h-1zM430 328h1v1h-1zM431 329h1v1h-1zM431 330h1v1h-1zM431 331h1v1h-1zM432 332h1v1h-1zM432 333h1v1h-1zM432 334h1v1h-1zM433 335h1v1h-1zM433 336h1v1h-1zM433 337h1v1h-1zM434 338h1v1h-1zM434 339h1v1h-1zM434 340h1v1h-1zM435 341h1v1h-1zM435 342h1v1h-1zM435 343h1v1h-1zM436 344h1v1h-1zM436 345h1v1h-1zM436 346h1v1h-1zM437 347h1v1h-1zM437 348h1v1h-1zM437 349h1v1h-1zM438 350h1v1h-1zM438 351h1v1h-1zM438 352h1v1h-1zM439 353h1v1h-1zM439 354h1v1h-1zM439 355h1v1h-1zM440 356h1v1h-1zM440 357h1v1h-1zM440 358h1v1h-1zM441 359h1v1h-1zM441 360h1v1h-1zM442 361h1v1h-1zM442 362h1v1h-1zM442 363h1v1h-1zM443 364h1v1h-1zM443 365h1v1h-1zM443 366h1v1h-1zM444 367h1v1h-1zM444 368h1v1h-1zM445 369h1v1h-1zM445 370h1v1h-1zM445 371h1v1h-1zM838 371h36v1h-36zM446 372h1v1h-1zM836 372h2v1h-2zM874 372h5v1h-5zM446 373h1v1h-1zM834 373h2v1h-2zM879 373h6v1h-6zM446 374h1v1h-1zM831 374h3v1h-3zM885 374h3v1h-3zM447 375h1v1h-1zM829 375h2v1h-2zM888 375h1v1h-1zM447 376h1v1h-1zM827 376h2v1h-2zM889 376h2v1h-2zM448 377h1v1h-1zM825 377h2v1h-2zM891 377h1v1h-1zM448 378h1v1h-1zM823 378h2v1h-2zM892 378h1v1h-1zM448 379h1v1h-1zM822 379h1v1h-1zM893 379h1v1h-1zM449 380h1v1h-1zM821 380h1v1h-1zM894 380h1v1h-1zM449 381h1v1h-1zM820 381h1v1h-1zM895 381h2v1h-2zM449 382h1v1h-1zM819 382h1v1h-1zM897 382h1v1h-1zM450 383h1v1h-1zM818 383h1v1h-1zM898 383h1v1h-1zM450 384h1v1h-1zM817 384h1v1h-1zM899 384h1v1h-1zM451 385h1v1h-1zM816 385h1v1h-1zM900 385h2v1h-2zM451 386h1v1h-1zM815 386h1v1h-1zM902 386h1v1h-1zM451 387h1v1h-1zM815 387h1v1h-1zM903 387h2v1h-2zM452 388h1v1h-1zM646 388h19v1h-19zM814 388h1v1h-1zM905 388h2v1h-2zM452 389h1v1h-1zM644 389h2v1h-2zM665 389h3v1h-3zM813 389h1v1h-1zM907 389h2v1h-2zM452 390h1v1h-1zM642 390h2v1h-2zM668 390h3v1h-3zM812 390h1v1h-1zM909 390h2v1h-2zM453 391h1v1h-1zM599 391h2v1h-2zM640 391h2v1h-2zM671 391h4v1h-4zM811 391h1v1h-1zM911 391h3v1h-3zM453 392h1v1h-1zM598 392h1v1h-1zM601 392h4v1h-4zM638 392h2v1h-2zM675 392h3v1h-3zM810 392h1v1h-1zM914 392h2v1h-2zM454 393h1v1h-1zM597 393h1v1h-1zM605 393h4v1h-4zM636 393h2v1h-2zM678 393h3v1h-3zM809 393h1v1h-1zM916 393h2v1h-2zM454 394h1v1h-1zM596 394h1v1h-1zM609 394h4v1h-4zM634 394h2v1h-2zM681 394h2v1h-2zM808 394h1v1h-1zM918 394h4v1h-4zM454 395h1v1h-1zM595 395h1v1h-1zM613 395h10v1h-10zM632 395h2v1h-2zM683 395h2v1h-2zM807 395h1v1h-1zM922 395h5v1h-5zM455 396h1v1h-1zM594 396h1v1h-1zM623 396h9v1h-9zM685 396h2v1h-2zM805 396h2v1h-2zM927 396h6v1h-6zM455 397h1v1h-1zM593 397h1v1h-1zM687 397h3v1h-3zM803 397h2v1h-2zM933 397h10v1h-10zM455 398h1v1h-1zM592 398h1v1h-1zM690 398h2v1h-2zM801 398h2v1h-2zM943 398h16v1h-16zM456 399h1v1h-1zM591 399h1v1h-1zM692 399h2v1h-2zM799 399h2v1h-2zM959 399h16v1h-16zM456 400h1v1h-1zM591 400h1v1h-1zM694 400h2v1h-2zM798 400h1v1h-1zM975 400h10v1h-10zM456 401h1v1h-1zM590 401h1v1h-1zM696 401h1v1h-1zM796 401h2v1h-2zM985 401h2v1h-2zM457 402h1v1h-1zM589 402h1v1h-1zM696 402h1v1h-1zM794 402h2v1h-2zM987 402h3v1h-3zM1111 402h1v1h-1zM457 403h1v1h-1zM588 403h1v1h-1zM697 403h1v1h-1zM792 403h2v1h-2zM990 403h3v1h-3zM1013 403h3v1h-3zM1110 403h1v1h-1zM457 404h1v1h-1zM587 404h1v1h-1zM698 404h1v1h-1zM790 404h2v1h-2zM993 404h2v1h-2zM1007 404h6v1h-6zM1016 404h1v1h-1zM1109 404h1v1h-1zM458 405h1v1h-1zM586 405h1v1h-1zM699 405h1v1h-1zM788 405h2v1h-2zM995 405h3v1h-3zM1002 405h5v1h-5zM1017 405h1v1h-1zM1108 405h1v1h-1zM458 406h1v1h-1zM585 406h1v1h-1zM699 406h1v1h-1zM786 406h2v1h-2zM998 406h4v1h-4zM1018 406h1v1h-1zM1107 406h1v1h-1zM458 407h1v1h-1zM584 407h1v1h-1zM700 407h1v1h-1zM784 407h2v1h-2zM1019 407h1v1h-1zM1106 407h1v1h-1zM459 408h1v1h-1zM583 408h1v1h-1zM701 408h1v1h-1zM782 408h2v1h-2zM1020 408h1v1h-1zM1105 408h1v1h-1zM459 409h1v1h-1zM582 409h1v1h-1zM702 409h1v1h-1zM780 409h2v1h-2zM1021 409h1v1h-1zM1104 409h1v1h-1zM459 410h1v1h-1zM581 410h1v1h-1zM702 410h1v1h-1zM778 410h2v1h-2zM1022 410h1v1h-1zM1103 410h1v1h-1zM460 411h1v1h-1zM581 411h1v1h-1zM703 411h1v1h-1zM743 411h2v1h-2zM776 411h2v1h-2zM1023 411h1v1h-1zM1102 411h1v1h-1zM460 412h1v1h-1zM580 412h1v1h-1zM704 412h1v1h-1zM741 412h2v1h-2zM745 412h4v1h-4zM773 412h3v1h-3zM1024 412h1v1h-1zM1101 412h1v1h-1zM460 413h1v1h-1zM579 413h1v1h-1zM704 413h1v1h-1zM740 413h1v1h-1zM749 413h4v1h-4zM767 413h6v1h-6zM1025 413h1v1h-1zM1100 413h1v1h-1zM461 414h1v1h-1zM578 414h1v1h-1zM705 414h1v1h-1zM738 414h2v1h-2zM753 414h4v1h-4zM762 414h5v1h-5zM1026 414h1v1h-1zM1099 414h1v1h-1zM461 415h1v1h-1zM577 415h1v1h-1zM706 415h1v1h-1zM737 415h1v1h-1zM757 415h5v1h-5zM1027 415h1v1h-1zM1098 415h1v1h-1zM461 416h1v1h-1zM577 416h1v1h-1zM707 416h1v1h-1zM735 416h2v1h-2zM1028 416h1v1h-1zM1097 416h1v1h-1zM462 417h1v1h-1zM576 417h1v1h-1zM707 417h1v1h-1zM734 417h1v1h-1zM1029 417h1v1h-1zM1096 417h1v1h-1zM462 418h1v1h-1zM575 418h1v1h-1zM708 418h1v1h-1zM733 418h1v1h-1zM1030 418h1v1h-1zM1095 418h1v1h-1zM462 419h1v1h-1zM574 419h1v1h-1zM709 419h1v1h-1zM731 419h2v1h-2zM1031 419h2v1h-2zM1093 419h2v1h-2zM463 420h1v1h-1zM573 420h1v1h-1zM710 420h1v1h-1zM730 420h1v1h-1zM1033 420h2v1h-2zM1092 420h1v1h-1zM463 421h1v1h-1zM573 421h1v1h-1zM710 421h1v1h-1zM728 421h2v1h-2zM1035 421h3v1h-3zM1091 421h1v1h-1zM464 422h1v1h-1zM572 422h1v1h-1zM711 422h17v1h-17zM1038 422h3v1h-3zM1089 422h2v1h-2zM464 423h1v1h-1zM571 423h1v1h-1zM1041 423h2v1h-2zM1088 423h1v1h-1zM464 424h1v1h-1zM570 424h1v1h-1zM1043 424h3v1h-3zM1087 424h1v1h-1zM465 425h1v1h-1zM569 425h1v1h-1zM1046 425h3v1h-3zM1085 425h2v1h-2zM465 426h1v1h-1zM569 426h1v1h-1zM1049 426h3v1h-3zM1084 426h1v1h-1zM465 427h1v1h-1zM568 427h1v1h-1zM1052 427h3v1h-3zM1083 427h1v1h-1zM466 428h1v1h-1zM567 428h1v1h-1zM1055 428h4v1h-4zM1081 428h2v1h-2zM466 429h1v1h-1zM566 429h1v1h-1zM1059 429h3v1h-3zM1080 429h1v1h-1zM466 430h1v1h-1zM566 430h1v1h-1zM1062 430h18v1h-18zM467 431h1v1h-1zM565 431h1v1h-1zM467 432h1v1h-1zM565 432h1v1h-1zM467 433h1v1h-1zM564 433h1v1h-1zM468 434h1v1h-1zM564 434h1v1h-1zM468 435h1v1h-1zM563 435h1v1h-1zM468 436h1v1h-1zM562 436h1v1h-1zM469 437h1v1h-1zM562 437h1v1h-1zM469 438h1v1h-1zM561 438h1v1h-1zM469 439h1v1h-1zM561 439h1v1h-1zM470 440h1v1h-1zM560 440h1v1h-1zM470 441h1v1h-1zM560 441h1v1h-1zM470 442h1v1h-1zM559 442h1v1h-1zM471 443h1v1h-1zM558 443h1v1h-1zM471 444h1v1h-1zM558 444h1v1h-1zM472 445h1v1h-1zM557 445h1v1h-1zM473 446h1v1h-1zM557 446h1v1h-1zM473 447h1v1h-1zM556 447h1v1h-1zM474 448h1v1h-1zM556 448h1v1h-1zM475 449h1v1h-1zM555 449h1v1h-1zM476 450h1v1h-1zM554 450h1v1h-1zM476 451h1v1h-1zM554 451h1v1h-1zM477 452h1v1h-1zM553 452h1v1h-1zM478 453h1v1h-1zM553 453h1v1h-1zM479 454h1v1h-1zM552 454h1v1h-1zM479 455h1v1h-1zM552 455h1v1h-1zM480 456h1v1h-1zM551 456h1v1h-1zM481 457h1v1h-1zM550 457h1v1h-1zM482 458h1v1h-1zM549 458h1v1h-1zM482 459h1v1h-1zM548 459h1v1h-1zM483 460h1v1h-1zM547 460h1v1h-1zM484 461h1v1h-1zM546 461h1v1h-1zM485 462h1v1h-1zM545 462h1v1h-1zM485 463h1v1h-1zM543 463h2v1h-2zM486 464h1v1h-1zM495 464h9v1h-9zM542 464h1v1h-1zM487 465h8v1h-8zM504 465h2v1h-2zM541 465h1v1h-1zM506 466h2v1h-2zM540 466h1v1h-1zM508 467h2v1h-2zM539 467h1v1h-1zM510 468h1v1h-1zM538 468h1v1h-1zM511 469h2v1h-2zM537 469h1v1h-1zM513 470h2v1h-2zM536 470h1v1h-1zM515 471h2v1h-2zM531 471h5v1h-5zM517 472h2v1h-2zM523 472h8v1h-8zM519 473h4v1h-4z" fill="#0000cd"/>
</g>
<rect x="364" y="202" width="844" height="6" fill="#f93a3a"/>
<rect x="364" y="202" width="844" height="1" fill="#fc2a2a"/>
<rect x="364" y="207" width="844" height="1" fill="#fc2a2a"/>
<rect x="1207" y="202" width="1" height="6" fill="#fc2a2a"/>
<rect x="437" y="425" width="766" height="5" fill="#99cc00"/>
<path d="M10,40.5 L13.5,36 L17,40.5 Z" fill="#000" shape-rendering="auto"/>
<text transform="translate(22,41) scale(0.97,1)" font-size="10" fill="#000" stroke="#000" stroke-width="0.25">USDCNH-,Daily</text>
<text transform="translate(96.5,41) scale(0.925,1)" font-size="10" fill="#000" stroke="#000" stroke-width="0.25">6.73342 6.74077 6.73341 6.73664</text>
<path d="M1132.5,30 L1142.5,30 L1137.5,35 Z" fill="#c0c0c0" shape-rendering="auto"/>
</g>
<rect x="8" y="47" width="223" height="68" fill="#ffffff"/>
<rect x="10" y="73" width="109" height="40" fill="#0000b0"/>
<rect x="11" y="74" width="107" height="38" fill="url(#gbody)"/>
<rect x="10" y="49" width="52" height="25" fill="#0000b0"/>
<rect x="11" y="50" width="50" height="24" fill="url(#gtab)"/>
<rect x="14" y="72" width="44" height="1" fill="#1a1aa0"/>
<rect x="14" y="73" width="44" height="1" fill="#6a6aff"/>
<rect x="121" y="73" width="108" height="40" fill="#0000b0"/>
<rect x="122" y="74" width="106" height="38" fill="url(#gbody)"/>
<rect x="177" y="49" width="52" height="25" fill="#0000b0"/>
<rect x="178" y="50" width="50" height="24" fill="url(#gtab)"/>
<rect x="181" y="72" width="44" height="1" fill="#1a1aa0"/>
<rect x="181" y="73" width="44" height="1" fill="#6a6aff"/>
<rect x="64" y="49" width="111" height="22" fill="#a8a8a8"/>
<rect x="65" y="50" width="109" height="20" fill="#ffffff"/>
<rect x="66" y="51" width="18" height="18" fill="url(#gbtn)"/>
<rect x="85" y="50" width="1" height="20" fill="#a8a8a8"/>
<rect x="155" y="51" width="18" height="18" fill="url(#gbtn)"/>
<rect x="153" y="50" width="1" height="20" fill="#a8a8a8"/>
<path d="M71.5,57.5 L77.5,57.5 L74.5,61.5 Z" fill="#5068c0" shape-rendering="auto"/>
<path d="M160.5,61.5 L166.5,61.5 L163.5,57.5 Z" fill="#5068c0" shape-rendering="auto"/>
<text transform="translate(125.8,64) scale(1.05,1)" font-size="12.5" fill="#000">1.00</text>
<text transform="translate(21.5,65) scale(0.88,1)" font-size="12.5" fill="#e8e8ff">SELL</text>
<text x="190" y="65" font-size="12.5" fill="#e8e8ff">BUY</text>
<text transform="translate(29.5,104) scale(1.03,1)" font-size="12.5" fill="#fff" font-weight="bold">6.73</text>
<text transform="translate(57,104.5) scale(0.92,1)" font-size="36.5" fill="#fff">66</text>
<text x="96.5" y="88" font-size="12.5" fill="#fff" font-weight="bold">4</text>
<text transform="translate(140.5,104) scale(1.03,1)" font-size="12.5" fill="#fff" font-weight="bold">6.73</text>
<text transform="translate(168,104.5) scale(0.92,1)" font-size="36.5" fill="#fff">89</text>
<text x="207.5" y="88" font-size="12.5" fill="#fff" font-weight="bold">5</text>
<rect x="1423" y="38" width="2" height="1" fill="#000"/>
<text transform="translate(1428,42.5) scale(0.95,1)" font-size="10" fill="#000" stroke="#000" stroke-width="0.25">6.82305</text>
<rect x="1423" y="71" width="2" height="1" fill="#000"/>
<text transform="translate(1428,75.5) scale(0.95,1)" font-size="10" fill="#000" stroke="#000" stroke-width="0.25">6.81330</text>
<rect x="1423" y="104" width="2" height="1" fill="#000"/>
<text transform="translate(1428,108.5) scale(0.95,1)" font-size="10" fill="#000" stroke="#000" stroke-width="0.25">6.80330</text>
<rect x="1423" y="137" width="2" height="1" fill="#000"/>
<text transform="translate(1428,141.5) scale(0.95,1)" font-size="10" fill="#000" stroke="#000" stroke-width="0.25">6.79355</text>
<rect x="1423" y="170" width="2" height="1" fill="#000"/>
<text transform="translate(1428,174.5) scale(0.95,1)" font-size="10" fill="#000" stroke="#000" stroke-width="0.25">6.78380</text>
<rect x="1423" y="203" width="2" height="1" fill="#000"/>
<text transform="translate(1428,207.5) scale(0.95,1)" font-size="10" fill="#000" stroke="#000" stroke-width="0.25">6.77405</text>
<rect x="1423" y="236" width="2" height="1" fill="#000"/>
<text transform="translate(1428,240.5) scale(0.95,1)" font-size="10" fill="#000" stroke="#000" stroke-width="0.25">6.76405</text>
<rect x="1423" y="269" width="2" height="1" fill="#000"/>
<text transform="translate(1428,273.5) scale(0.95,1)" font-size="10" fill="#000" stroke="#000" stroke-width="0.25">6.75430</text>
<rect x="1423" y="302" width="2" height="1" fill="#000"/>
<text transform="translate(1428,306.5) scale(0.95,1)" font-size="10" fill="#000" stroke="#000" stroke-width="0.25">6.74455</text>
<rect x="1423" y="335" width="2" height="1" fill="#000"/>
<text transform="translate(1428,339.5) scale(0.95,1)" font-size="10" fill="#000" stroke="#000" stroke-width="0.25">6.73480</text>
<rect x="1423" y="368" width="2" height="1" fill="#000"/>
<text transform="translate(1428,372.5) scale(0.95,1)" font-size="10" fill="#000" stroke="#000" stroke-width="0.25">6.72480</text>
<rect x="1423" y="401" width="2" height="1" fill="#000"/>
<text transform="translate(1428,405.5) scale(0.95,1)" font-size="10" fill="#000" stroke="#000" stroke-width="0.25">6.71505</text>
<rect x="1423" y="434" width="2" height="1" fill="#000"/>
<text transform="translate(1428,438.5) scale(0.95,1)" font-size="10" fill="#000" stroke="#000" stroke-width="0.25">6.70530</text>
<rect x="1423" y="467" width="2" height="1" fill="#000"/>
<text transform="translate(1428,471.5) scale(0.95,1)" font-size="10" fill="#000" stroke="#000" stroke-width="0.25">6.69555</text>
<rect x="1423" y="500" width="2" height="1" fill="#000"/>
<text transform="translate(1428,504.5) scale(0.95,1)" font-size="10" fill="#000" stroke="#000" stroke-width="0.25">6.68555</text>
<rect x="1423" y="533" width="2" height="1" fill="#000"/>
<text transform="translate(1428,537.5) scale(0.95,1)" font-size="10" fill="#000" stroke="#000" stroke-width="0.25">6.67580</text>
<rect x="1423" y="566" width="2" height="1" fill="#000"/>
<text transform="translate(1428,570.5) scale(0.95,1)" font-size="10" fill="#000" stroke="#000" stroke-width="0.25">6.66605</text>
<rect x="1424" y="324" width="41" height="11" fill="#000"/>
<text transform="translate(1428,333.5) scale(0.95,1)" font-size="10" fill="#fff" stroke="#fff" stroke-width="0.25">6.73664</text>
<g clip-path="url(#cd)">
<rect x="6" y="578" width="2" height="82" fill="#c0c0c0"/>
<rect x="22" y="578" width="2" height="85" fill="#c0c0c0"/>
<rect x="38" y="578" width="2" height="80" fill="#c0c0c0"/>
<rect x="54" y="578" width="2" height="71" fill="#c0c0c0"/>
<rect x="70" y="578" width="2" height="68" fill="#c0c0c0"/>
<rect x="86" y="578" width="2" height="65" fill="#c0c0c0"/>
<rect x="102" y="578" width="2" height="70" fill="#c0c0c0"/>
<rect x="118" y="578" width="2" height="73" fill="#c0c0c0"/>
<rect x="134" y="578" width="2" height="75" fill="#c0c0c0"/>
<rect x="150" y="578" width="2" height="85" fill="#c0c0c0"/>
<rect x="166" y="578" width="2" height="92" fill="#c0c0c0"/>
<rect x="182" y="578" width="2" height="87" fill="#c0c0c0"/>
<rect x="198" y="578" width="2" height="76" fill="#c0c0c0"/>
<rect x="214" y="578" width="2" height="72" fill="#c0c0c0"/>
<rect x="230" y="578" width="2" height="64" fill="#c0c0c0"/>
<rect x="246" y="578" width="2" height="55" fill="#c0c0c0"/>
<rect x="262" y="578" width="2" height="48" fill="#c0c0c0"/>
<rect x="278" y="578" width="2" height="38" fill="#c0c0c0"/>
<rect x="294" y="578" width="2" height="36" fill="#c0c0c0"/>
<rect x="310" y="578" width="2" height="31" fill="#c0c0c0"/>
<rect x="326" y="578" width="2" height="28" fill="#c0c0c0"/>
<rect x="342" y="578" width="2" height="26" fill="#c0c0c0"/>
<rect x="358" y="578" width="2" height="26" fill="#c0c0c0"/>
<rect x="374" y="578" width="2" height="31" fill="#c0c0c0"/>
<rect x="390" y="578" width="2" height="40" fill="#c0c0c0"/>
<rect x="406" y="578" width="2" height="44" fill="#c0c0c0"/>
<rect x="422" y="578" width="2" height="53" fill="#c0c0c0"/>
<rect x="438" y="578" width="2" height="61" fill="#c0c0c0"/>
<rect x="454" y="578" width="2" height="68" fill="#c0c0c0"/>
<rect x="470" y="578" width="2" height="73" fill="#c0c0c0"/>
<rect x="486" y="578" width="2" height="73" fill="#c0c0c0"/>
<rect x="502" y="578" width="2" height="68" fill="#c0c0c0"/>
<rect x="518" y="578" width="2" height="66" fill="#c0c0c0"/>
<rect x="534" y="578" width="2" height="63" fill="#c0c0c0"/>
<rect x="550" y="578" width="2" height="58" fill="#c0c0c0"/>
<rect x="566" y="578" width="2" height="51" fill="#c0c0c0"/>
<rect x="582" y="578" width="2" height="43" fill="#c0c0c0"/>
<rect x="598" y="578" width="2" height="39" fill="#c0c0c0"/>
<rect x="614" y="578" width="2" height="39" fill="#c0c0c0"/>
<rect x="630" y="578" width="2" height="39" fill="#c0c0c0"/>
<rect x="646" y="578" width="2" height="35" fill="#c0c0c0"/>
<rect x="662" y="578" width="2" height="33" fill="#c0c0c0"/>
<rect x="678" y="578" width="2" height="30" fill="#c0c0c0"/>
<rect x="694" y="578" width="2" height="28" fill="#c0c0c0"/>
<rect x="710" y="578" width="2" height="33" fill="#c0c0c0"/>
<rect x="726" y="578" width="2" height="31" fill="#c0c0c0"/>
<rect x="742" y="578" width="2" height="26" fill="#c0c0c0"/>
<rect x="758" y="578" width="2" height="23" fill="#c0c0c0"/>
<rect x="774" y="578" width="2" height="21" fill="#c0c0c0"/>
<rect x="790" y="578" width="2" height="15" fill="#c0c0c0"/>
<rect x="806" y="578" width="2" height="10" fill="#c0c0c0"/>
<rect x="822" y="578" width="2" height="9" fill="#c0c0c0"/>
<rect x="838" y="578" width="2" height="9" fill="#c0c0c0"/>
<rect x="854" y="578" width="2" height="6" fill="#c0c0c0"/>
<rect x="870" y="578" width="2" height="8" fill="#c0c0c0"/>
<rect x="886" y="578" width="2" height="8" fill="#c0c0c0"/>
<rect x="902" y="578" width="2" height="10" fill="#c0c0c0"/>
<rect x="918" y="578" width="2" height="10" fill="#c0c0c0"/>
<rect x="934" y="578" width="2" height="8" fill="#c0c0c0"/>
<rect x="950" y="578" width="2" height="8" fill="#c0c0c0"/>
<rect x="966" y="578" width="2" height="6" fill="#c0c0c0"/>
<rect x="982" y="578" width="2" height="8" fill="#c0c0c0"/>
<rect x="998" y="578" width="2" height="10" fill="#c0c0c0"/>
<rect x="1014" y="578" width="2" height="10" fill="#c0c0c0"/>
<rect x="1030" y="578" width="2" height="17" fill="#c0c0c0"/>
<rect x="1046" y="578" width="2" height="16" fill="#c0c0c0"/>
<rect x="1062" y="578" width="2" height="13" fill="#c0c0c0"/>
<rect x="1078" y="578" width="2" height="10" fill="#c0c0c0"/>
<rect x="1094" y="578" width="2" height="5" fill="#c0c0c0"/>
<rect x="1110" y="578" width="2" height="1" fill="#c0c0c0"/>
<g shape-rendering="crispEdges">
<path d="M927 586h1v1h-1zM931 586h3v1h-3zM937 586h3v1h-3zM943 586h3v1h-3zM949 586h3v1h-3zM955 586h3v1h-3zM961 586h3v1h-3zM967 586h3v1h-3zM973 586h3v1h-3zM979 586h3v1h-3zM985 586h3v1h-3zM991 586h3v1h-3zM997 586h3v1h-3zM1003 586h3v1h-3zM1009 586h3v1h-3zM1015 586h3v1h-3zM1021 586h2v1h-2zM915 587h1v1h-1zM919 587h3v1h-3zM925 587h2v1h-2zM1023 587h1v1h-1zM1027 587h3v1h-3zM1033 587h3v1h-3zM907 588h3v1h-3zM913 588h2v1h-2zM1039 588h3v1h-3zM1045 588h3v1h-3zM1051 588h3v1h-3zM1057 588h3v1h-3zM1063 588h3v1h-3zM1069 588h3v1h-3zM1075 588h3v1h-3zM1081 588h3v1h-3zM1087 588h3v1h-3zM1093 588h3v1h-3zM1099 588h3v1h-3zM1105 588h3v1h-3zM1111 588h1v1h-1zM901 589h3v1h-3zM891 590h1v1h-1zM895 590h3v1h-3zM883 591h3v1h-3zM889 591h2v1h-2zM877 592h3v1h-3zM865 593h3v1h-3zM871 593h3v1h-3zM853 594h3v1h-3zM859 594h3v1h-3zM849 595h1v1h-1zM847 596h2v1h-2zM841 597h3v1h-3zM831 598h1v1h-1zM835 598h3v1h-3zM819 599h1v1h-1zM823 599h3v1h-3zM829 599h2v1h-2zM811 600h3v1h-3zM817 600h2v1h-2zM805 601h3v1h-3zM799 602h3v1h-3zM794 603h2v1h-2zM787 604h3v1h-3zM793 604h1v1h-1zM781 605h3v1h-3zM771 606h1v1h-1zM775 606h3v1h-3zM763 607h3v1h-3zM769 607h2v1h-2zM757 608h3v1h-3zM747 609h1v1h-1zM751 609h3v1h-3zM735 610h1v1h-1zM739 610h3v1h-3zM745 610h2v1h-2zM387 611h1v1h-1zM391 611h3v1h-3zM397 611h3v1h-3zM403 611h3v1h-3zM409 611h3v1h-3zM723 611h1v1h-1zM727 611h3v1h-3zM733 611h2v1h-2zM379 612h3v1h-3zM385 612h2v1h-2zM415 612h3v1h-3zM421 612h3v1h-3zM715 612h3v1h-3zM721 612h2v1h-2zM373 613h3v1h-3zM427 613h3v1h-3zM433 613h2v1h-2zM709 613h3v1h-3zM367 614h3v1h-3zM435 614h1v1h-1zM439 614h2v1h-2zM703 614h3v1h-3zM362 615h2v1h-2zM441 615h1v1h-1zM698 615h2v1h-2zM361 616h1v1h-1zM445 616h3v1h-3zM693 616h1v1h-1zM697 616h1v1h-1zM355 617h3v1h-3zM451 617h2v1h-2zM687 617h1v1h-1zM691 617h2v1h-2zM351 618h1v1h-1zM453 618h1v1h-1zM685 618h2v1h-2zM349 619h2v1h-2zM457 619h3v1h-3zM679 619h3v1h-3zM345 620h1v1h-1zM673 620h3v1h-3zM343 621h2v1h-2zM463 621h3v1h-3zM667 621h3v1h-3zM469 622h1v1h-1zM662 622h2v1h-2zM338 623h2v1h-2zM470 623h2v1h-2zM661 623h1v1h-1zM337 624h1v1h-1zM655 624h3v1h-3zM333 625h1v1h-1zM475 625h2v1h-2zM331 626h2v1h-2zM477 626h1v1h-1zM649 626h3v1h-3zM481 627h1v1h-1zM645 627h1v1h-1zM326 628h2v1h-2zM482 628h2v1h-2zM639 628h1v1h-1zM643 628h2v1h-2zM325 629h1v1h-1zM637 629h2v1h-2zM487 630h2v1h-2zM631 630h3v1h-3zM319 631h3v1h-3zM489 631h1v1h-1zM625 631h3v1h-3zM493 632h2v1h-2zM621 632h1v1h-1zM315 633h1v1h-1zM495 633h1v1h-1zM619 633h2v1h-2zM313 634h2v1h-2zM499 634h3v1h-3zM613 634h3v1h-3zM505 635h1v1h-1zM609 635h1v1h-1zM307 636h3v1h-3zM506 636h2v1h-2zM607 636h2v1h-2zM303 637h1v1h-1zM511 637h3v1h-3zM601 637h3v1h-3zM301 638h2v1h-2zM517 638h3v1h-3zM597 638h1v1h-1zM297 639h1v1h-1zM523 639h3v1h-3zM591 639h1v1h-1zM595 639h2v1h-2zM295 640h2v1h-2zM529 640h3v1h-3zM589 640h2v1h-2zM291 641h1v1h-1zM535 641h3v1h-3zM577 641h3v1h-3zM583 641h3v1h-3zM289 642h2v1h-2zM541 642h3v1h-3zM559 642h3v1h-3zM565 642h3v1h-3zM571 642h3v1h-3zM284 643h2v1h-2zM547 643h3v1h-3zM553 643h3v1h-3zM7 644h2v1h-2zM283 644h1v1h-1zM9 645h1v1h-1zM278 645h2v1h-2zM277 646h1v1h-1zM13 647h2v1h-2zM271 647h3v1h-3zM15 648h1v1h-1zM19 649h1v1h-1zM265 649h3v1h-3zM20 650h2v1h-2zM261 650h1v1h-1zM255 651h1v1h-1zM259 651h2v1h-2zM25 652h3v1h-3zM145 652h3v1h-3zM151 652h3v1h-3zM157 652h2v1h-2zM253 652h2v1h-2zM133 653h3v1h-3zM139 653h3v1h-3zM159 653h1v1h-1zM163 653h3v1h-3zM169 653h3v1h-3zM243 653h1v1h-1zM247 653h3v1h-3zM31 654h3v1h-3zM123 654h1v1h-1zM127 654h3v1h-3zM175 654h3v1h-3zM181 654h3v1h-3zM187 654h3v1h-3zM193 654h3v1h-3zM199 654h3v1h-3zM205 654h2v1h-2zM235 654h3v1h-3zM241 654h2v1h-2zM37 655h1v1h-1zM115 655h3v1h-3zM121 655h2v1h-2zM207 655h1v1h-1zM211 655h3v1h-3zM217 655h3v1h-3zM223 655h3v1h-3zM229 655h3v1h-3zM38 656h2v1h-2zM43 656h3v1h-3zM109 656h3v1h-3zM49 657h3v1h-3zM55 657h3v1h-3zM97 657h3v1h-3zM103 657h3v1h-3zM61 658h3v1h-3zM79 658h3v1h-3zM85 658h3v1h-3zM91 658h3v1h-3zM67 659h3v1h-3zM73 659h3v1h-3z" fill="#ff0000"/>
</g>
<text transform="translate(10,585) scale(0.95,1)" font-size="10" fill="#000" stroke="#000" stroke-width="0.25">MACD(12,26,9) 0.000413 -0.003476</text>
</g>
<rect x="1423" y="573" width="2" height="1" fill="#000"/>
<rect x="1423" y="578" width="2" height="1" fill="#000"/>
<text transform="translate(1426.5,582.5) scale(0.95,1)" font-size="10" fill="#000" stroke="#000" stroke-width="0.25">0.002212</text>
<rect x="1423" y="674" width="2" height="1" fill="#000"/>
<text x="1426" y="673" font-size="10" fill="#000" stroke="#000" stroke-width="0.25">-0.037368</text>
<g clip-path="url(#cr)">
<line x1="7" y1="717.5" x2="1422" y2="717.5" stroke="#c0c0c0" stroke-dasharray="3 3" stroke-dashoffset="5"/>
<line x1="7" y1="768.5" x2="1422" y2="768.5" stroke="#c0c0c0" stroke-dasharray="3 3" stroke-dashoffset="5"/>
<g shape-rendering="crispEdges">
<path d="M1107 734h5v1h-5zM1099 735h8v1h-8zM1093 736h6v1h-6zM1087 737h6v1h-6zM1082 738h5v1h-5zM790 739h19v1h-19zM1077 739h5v1h-5zM277 740h3v1h-3zM787 740h3v1h-3zM809 740h3v1h-3zM1073 740h4v1h-4zM273 741h4v1h-4zM280 741h2v1h-2zM783 741h4v1h-4zM812 741h3v1h-3zM965 741h3v1h-3zM1069 741h4v1h-4zM269 742h4v1h-4zM282 742h2v1h-2zM742 742h3v1h-3zM780 742h3v1h-3zM815 742h4v1h-4zM851 742h6v1h-6zM959 742h6v1h-6zM968 742h2v1h-2zM1065 742h4v1h-4zM265 743h4v1h-4zM284 743h2v1h-2zM740 743h2v1h-2zM745 743h4v1h-4zM777 743h3v1h-3zM819 743h3v1h-3zM843 743h8v1h-8zM857 743h3v1h-3zM954 743h5v1h-5zM970 743h2v1h-2zM1062 743h3v1h-3zM245 744h20v1h-20zM286 744h2v1h-2zM309 744h6v1h-6zM566 744h9v1h-9zM738 744h2v1h-2zM749 744h4v1h-4zM771 744h6v1h-6zM822 744h21v1h-21zM860 744h3v1h-3zM918 744h36v1h-36zM972 744h2v1h-2zM1059 744h3v1h-3zM239 745h6v1h-6zM288 745h2v1h-2zM305 745h4v1h-4zM315 745h8v1h-8zM564 745h2v1h-2zM575 745h26v1h-26zM735 745h3v1h-3zM753 745h4v1h-4zM763 745h8v1h-8zM863 745h4v1h-4zM915 745h3v1h-3zM974 745h2v1h-2zM1014 745h2v1h-2zM1055 745h4v1h-4zM234 746h5v1h-5zM290 746h2v1h-2zM301 746h4v1h-4zM323 746h12v1h-12zM562 746h2v1h-2zM601 746h2v1h-2zM733 746h2v1h-2zM757 746h6v1h-6zM867 746h3v1h-3zM911 746h4v1h-4zM976 746h2v1h-2zM1011 746h3v1h-3zM1016 746h1v1h-1zM1052 746h3v1h-3zM198 747h3v1h-3zM229 747h5v1h-5zM292 747h2v1h-2zM297 747h4v1h-4zM335 747h25v1h-25zM559 747h3v1h-3zM603 747h3v1h-3zM646 747h5v1h-5zM675 747h21v1h-21zM731 747h2v1h-2zM870 747h21v1h-21zM908 747h3v1h-3zM978 747h2v1h-2zM1009 747h2v1h-2zM1017 747h1v1h-1zM1049 747h3v1h-3zM195 748h3v1h-3zM201 748h4v1h-4zM225 748h4v1h-4zM294 748h3v1h-3zM360 748h2v1h-2zM557 748h2v1h-2zM606 748h3v1h-3zM644 748h2v1h-2zM651 748h8v1h-8zM667 748h8v1h-8zM696 748h2v1h-2zM729 748h2v1h-2zM891 748h8v1h-8zM905 748h3v1h-3zM980 748h2v1h-2zM1006 748h3v1h-3zM1018 748h1v1h-1zM1047 748h2v1h-2zM54 749h3v1h-3zM193 749h2v1h-2zM205 749h4v1h-4zM221 749h4v1h-4zM362 749h2v1h-2zM555 749h2v1h-2zM609 749h2v1h-2zM642 749h2v1h-2zM659 749h8v1h-8zM698 749h1v1h-1zM727 749h2v1h-2zM899 749h6v1h-6zM982 749h5v1h-5zM1003 749h3v1h-3zM1019 749h2v1h-2zM1045 749h2v1h-2zM51 750h3v1h-3zM57 750h2v1h-2zM190 750h3v1h-3zM209 750h4v1h-4zM217 750h4v1h-4zM364 750h2v1h-2zM553 750h2v1h-2zM611 750h3v1h-3zM639 750h3v1h-3zM699 750h2v1h-2zM725 750h2v1h-2zM987 750h8v1h-8zM1001 750h2v1h-2zM1021 750h1v1h-1zM1044 750h1v1h-1zM47 751h4v1h-4zM59 751h3v1h-3zM187 751h3v1h-3zM213 751h4v1h-4zM366 751h2v1h-2zM503 751h3v1h-3zM549 751h4v1h-4zM614 751h4v1h-4zM637 751h2v1h-2zM701 751h1v1h-1zM723 751h2v1h-2zM995 751h6v1h-6zM1022 751h1v1h-1zM1042 751h2v1h-2zM44 752h3v1h-3zM62 752h3v1h-3zM185 752h2v1h-2zM368 752h2v1h-2zM501 752h2v1h-2zM506 752h5v1h-5zM545 752h4v1h-4zM618 752h5v1h-5zM635 752h2v1h-2zM702 752h1v1h-1zM721 752h2v1h-2zM1023 752h1v1h-1zM1041 752h1v1h-1zM23 753h8v1h-8zM41 753h3v1h-3zM65 753h2v1h-2zM83 753h5v1h-5zM183 753h2v1h-2zM370 753h2v1h-2zM499 753h2v1h-2zM511 753h6v1h-6zM541 753h4v1h-4zM623 753h6v1h-6zM633 753h2v1h-2zM703 753h2v1h-2zM719 753h2v1h-2zM1024 753h1v1h-1zM1039 753h2v1h-2zM21 754h2v1h-2zM31 754h10v1h-10zM67 754h3v1h-3zM75 754h8v1h-8zM88 754h2v1h-2zM182 754h1v1h-1zM372 754h2v1h-2zM497 754h2v1h-2zM517 754h10v1h-10zM537 754h4v1h-4zM629 754h4v1h-4zM705 754h1v1h-1zM718 754h1v1h-1zM1025 754h1v1h-1zM1038 754h1v1h-1zM19 755h2v1h-2zM70 755h5v1h-5zM90 755h1v1h-1zM181 755h1v1h-1zM374 755h3v1h-3zM495 755h2v1h-2zM527 755h10v1h-10zM706 755h2v1h-2zM716 755h2v1h-2zM1026 755h1v1h-1zM1037 755h1v1h-1zM18 756h1v1h-1zM91 756h2v1h-2zM180 756h1v1h-1zM377 756h2v1h-2zM494 756h1v1h-1zM708 756h1v1h-1zM714 756h2v1h-2zM1027 756h2v1h-2zM1035 756h2v1h-2zM16 757h2v1h-2zM93 757h2v1h-2zM179 757h1v1h-1zM379 757h3v1h-3zM405 757h4v1h-4zM492 757h2v1h-2zM709 757h2v1h-2zM712 757h2v1h-2zM1029 757h1v1h-1zM1034 757h1v1h-1zM15 758h1v1h-1zM95 758h1v1h-1zM179 758h1v1h-1zM382 758h3v1h-3zM401 758h4v1h-4zM409 758h4v1h-4zM490 758h2v1h-2zM711 758h1v1h-1zM1030 758h1v1h-1zM1032 758h2v1h-2zM13 759h2v1h-2zM96 759h2v1h-2zM178 759h1v1h-1zM385 759h2v1h-2zM397 759h4v1h-4zM413 759h4v1h-4zM488 759h2v1h-2zM1031 759h1v1h-1zM11 760h2v1h-2zM98 760h1v1h-1zM177 760h1v1h-1zM387 760h3v1h-3zM393 760h4v1h-4zM417 760h4v1h-4zM486 760h2v1h-2zM10 761h1v1h-1zM99 761h2v1h-2zM176 761h1v1h-1zM390 761h3v1h-3zM421 761h4v1h-4zM484 761h2v1h-2zM8 762h2v1h-2zM101 762h2v1h-2zM175 762h1v1h-1zM425 762h4v1h-4zM482 762h2v1h-2zM7 763h1v1h-1zM103 763h24v1h-24zM174 763h1v1h-1zM429 763h4v1h-4zM479 763h3v1h-3zM127 764h9v1h-9zM173 764h1v1h-1zM433 764h4v1h-4zM477 764h2v1h-2zM136 765h2v1h-2zM172 765h1v1h-1zM437 765h22v1h-22zM475 765h2v1h-2zM138 766h2v1h-2zM171 766h1v1h-1zM459 766h8v1h-8zM473 766h2v1h-2zM140 767h2v1h-2zM171 767h1v1h-1zM467 767h6v1h-6zM142 768h2v1h-2zM170 768h1v1h-1zM144 769h2v1h-2zM169 769h1v1h-1zM146 770h2v1h-2zM168 770h1v1h-1zM148 771h2v1h-2zM159 771h9v1h-9zM150 772h9v1h-9z" fill="#1e90ff"/>
</g>
<text transform="translate(10.5,691) scale(0.95,1)" font-size="10" fill="#000" stroke="#000" stroke-width="0.25">RSI(14) 56.4292</text>
</g>
<rect x="1423" y="679" width="2" height="1" fill="#000"/>
<text x="1426" y="689" font-size="10" fill="#000" stroke="#000" stroke-width="0.25">100</text>
<text x="1426" y="722" font-size="10" fill="#000" stroke="#000" stroke-width="0.25">70</text>
<text x="1426" y="773" font-size="10" fill="#000" stroke="#000" stroke-width="0.25">30</text>
<text x="1426" y="805" font-size="10" fill="#000" stroke="#000" stroke-width="0.25">0</text>
<rect x="1423" y="806" width="2" height="1" fill="#000"/>
<rect x="7" y="808" width="1" height="3" fill="#000"/>
<text transform="translate(6,820.5) scale(0.94,1)" font-size="10" fill="#000" stroke="#000" stroke-width="0.25">17 Jan 2019</text>
<rect x="71" y="808" width="1" height="3" fill="#000"/>
<text transform="translate(70,820.5) scale(0.94,1)" font-size="10" fill="#000" stroke="#000" stroke-width="0.25">23 Jan 2019</text>
<rect x="135" y="808" width="1" height="3" fill="#000"/>
<text transform="translate(134,820.5) scale(0.94,1)" font-size="10" fill="#000" stroke="#000" stroke-width="0.25">29 Jan 2019</text>
<rect x="199" y="808" width="1" height="3" fill="#000"/>
<text transform="translate(198,820.5) scale(0.94,1)" font-size="10" fill="#000" stroke="#000" stroke-width="0.25">4 Feb 2019</text>
<rect x="263" y="808" width="1" height="3" fill="#000"/>
<text transform="translate(262,820.5) scale(0.94,1)" font-size="10" fill="#000" stroke="#000" stroke-width="0.25">8 Feb 2019</text>
<rect x="327" y="808" width="1" height="3" fill="#000"/>
<text transform="translate(326,820.5) scale(0.94,1)" font-size="10" fill="#000" stroke="#000" stroke-width="0.25">14 Feb 2019</text>
<rect x="391" y="808" width="1" height="3" fill="#000"/>
<text transform="translate(390,820.5) scale(0.94,1)" font-size="10" fill="#000" stroke="#000" stroke-width="0.25">20 Feb 2019</text>
<rect x="455" y="808" width="1" height="3" fill="#000"/>
<text transform="translate(454,820.5) scale(0.94,1)" font-size="10" fill="#000" stroke="#000" stroke-width="0.25">26 Feb 2019</text>
<rect x="519" y="808" width="1" height="3" fill="#000"/>
<text transform="translate(518,820.5) scale(0.94,1)" font-size="10" fill="#000" stroke="#000" stroke-width="0.25">4 Mar 2019</text>
<rect x="583" y="808" width="1" height="3" fill="#000"/>
<text transform="translate(582,820.5) scale(0.94,1)" font-size="10" fill="#000" stroke="#000" stroke-width="0.25">8 Mar 2019</text>
<rect x="647" y="808" width="1" height="3" fill="#000"/>
<text transform="translate(646,820.5) scale(0.94,1)" font-size="10" fill="#000" stroke="#000" stroke-width="0.25">14 Mar 2019</text>
<rect x="711" y="808" width="1" height="3" fill="#000"/>
<text transform="translate(710,820.5) scale(0.94,1)" font-size="10" fill="#000" stroke="#000" stroke-width="0.25">20 Mar 2019</text>
<rect x="775" y="808" width="1" height="3" fill="#000"/>
<text transform="translate(774,820.5) scale(0.94,1)" font-size="10" fill="#000" stroke="#000" stroke-width="0.25">26 Mar 2019</text>
<rect x="839" y="808" width="1" height="3" fill="#000"/>
<text transform="translate(838,820.5) scale(0.94,1)" font-size="10" fill="#000" stroke="#000" stroke-width="0.25">1 Apr 2019</text>
<rect x="903" y="808" width="1" height="3" fill="#000"/>
<text transform="translate(902,820.5) scale(0.94,1)" font-size="10" fill="#000" stroke="#000" stroke-width="0.25">5 Apr 2019</text>
<rect x="967" y="808" width="1" height="3" fill="#000"/>
<text transform="translate(966,820.5) scale(0.94,1)" font-size="10" fill="#000" stroke="#000" stroke-width="0.25">11 Apr 2019</text>
<rect x="1031" y="808" width="1" height="3" fill="#000"/>
<text transform="translate(1030,820.5) scale(0.94,1)" font-size="10" fill="#000" stroke="#000" stroke-width="0.25">17 Apr 2019</text>
<rect x="1095" y="808" width="1" height="3" fill="#000"/>
<text transform="translate(1094,820.5) scale(0.94,1)" font-size="10" fill="#000" stroke="#000" stroke-width="0.25">24 Apr 2019</text>
<text x="18.5" y="845" font-size="12.5" fill="#646464">EURUSD-,Daily</text>
<text x="125" y="845" font-size="12.5" fill="#646464">AUDUSD-,Daily</text>
<text x="235" y="845" font-size="12.5" fill="#646464">USDCHF-,Daily</text>
<text x="342" y="845" font-size="12.5" fill="#646464">USDCAD-,Daily</text>
<rect x="116" y="833" width="1" height="14" fill="#808080"/>
<rect x="224" y="833" width="1" height="14" fill="#808080"/>
<rect x="332" y="833" width="1" height="14" fill="#808080"/>
<rect x="440" y="830" width="1" height="19" fill="#000"/>
<rect x="551" y="830" width="1" height="19" fill="#000"/>
<rect x="440" y="848" width="112" height="1" fill="#000"/>
<rect x="441" y="830" width="110" height="18" fill="#ffffff"/>
<text x="451.5" y="845" font-size="12.6" fill="#000">USDCNH-,Daily</text>
<path d="M1441.5,835.5 L1441.5,842.5 L1437.5,839 Z" fill="#a0a0a0" shape-rendering="auto"/>
<path d="M1456.5,835.5 L1456.5,842.5 L1460.5,839 Z" fill="#a0a0a0" shape-rendering="auto"/>
</svg>
</body></html>
